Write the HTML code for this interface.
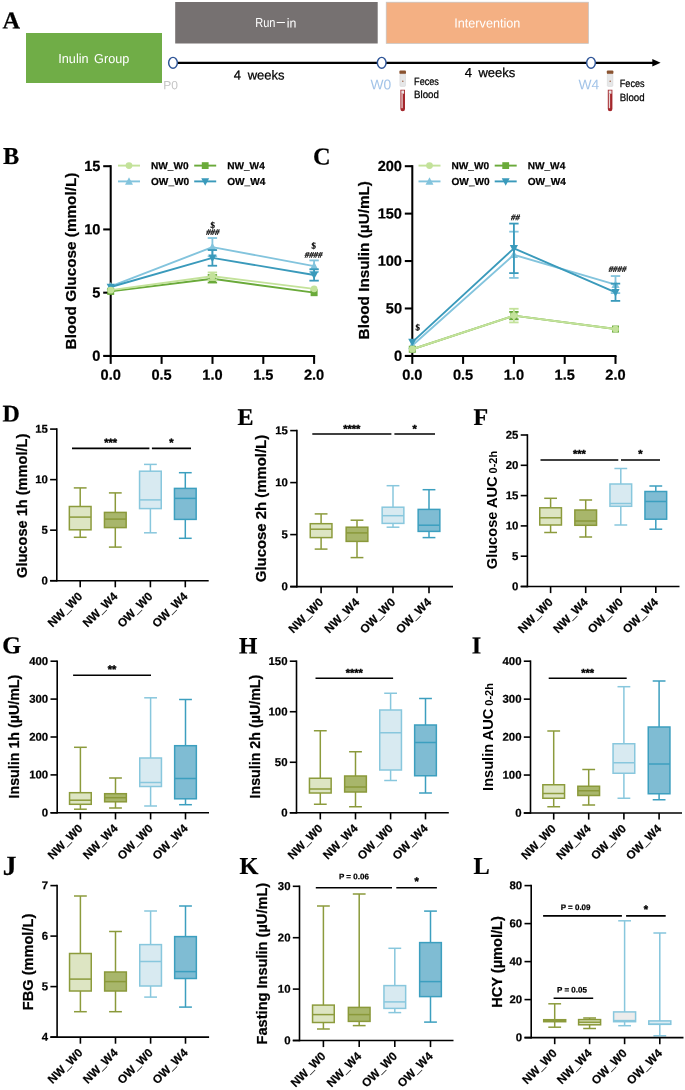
<!DOCTYPE html>
<html lang="en">
<head>
<meta charset="utf-8">
<title>Figure</title>
<style>
html,body{margin:0;padding:0;background:#fff;}
body{width:685px;height:1090px;overflow:hidden;}
svg{display:block;}
text{font-kerning:normal;}
</style>
</head>
<body>
<svg width="685" height="1090" viewBox="0 0 685 1090" role="img" aria-label="Study design and glucose, insulin and HCY results">
<rect x="0" y="0" width="685" height="1090" fill="#ffffff"/>
<text x="2.6" y="28.6" font-family='"Liberation Serif", serif' font-size="24.3" font-weight="bold" text-anchor="start" fill="#000" transform="rotate(0.03 2.6 28.6)" stroke="#000" stroke-width="0.22">A</text>
<rect x="26" y="33" width="136" height="50" fill="#70ad47" stroke="none" stroke-width="1"/>
<text x="93.8" y="63" font-family='"Liberation Sans", sans-serif' font-size="13" font-weight="normal" text-anchor="middle" fill="#fff" transform="rotate(0.03 93.8 63)" word-spacing="2" textLength="71" lengthAdjust="spacingAndGlyphs">Inulin Group</text>
<rect x="175.2" y="2" width="202.5" height="41.5" fill="#767171" stroke="none" stroke-width="1"/>
<text y="27.5" font-family='"Liberation Sans", sans-serif' font-size="13" fill="#fff" transform="rotate(0.03 276 27.5)"><tspan x="255.3" textLength="20.2" lengthAdjust="spacingAndGlyphs">Run</tspan><tspan x="275.2" dy="-1.5" textLength="11.2" lengthAdjust="spacingAndGlyphs">-</tspan><tspan x="286.8" dy="1.5" textLength="9.6" lengthAdjust="spacingAndGlyphs">in</tspan></text>
<rect x="386.2" y="2.2" width="202.3" height="41.2" fill="#f4b083" stroke="#c4c4c4" stroke-width="0.7"/>
<text x="487.3" y="27.5" font-family='"Liberation Sans", sans-serif' font-size="13" font-weight="normal" text-anchor="middle" fill="#fff" transform="rotate(0.03 487.3 27.5)" textLength="66" lengthAdjust="spacingAndGlyphs">Intervention</text>
<line x1="177" y1="62.8" x2="653" y2="62.8" stroke="#000" stroke-width="2.3" stroke-linecap="butt"/>
<polygon points="652.3,59.099999999999994 660.6,62.8 652.3,66.5" fill="#000"/>
<ellipse cx="173" cy="62.8" rx="4.35" ry="5.45" fill="#fff" stroke="#2f5597" stroke-width="1.45"/>
<ellipse cx="381.7" cy="62.8" rx="4.35" ry="5.45" fill="#fff" stroke="#2f5597" stroke-width="1.45"/>
<ellipse cx="591" cy="62.8" rx="4.35" ry="5.45" fill="#fff" stroke="#2f5597" stroke-width="1.45"/>
<text x="163.2" y="89.2" font-family='"Liberation Sans", sans-serif' font-size="12" font-weight="normal" text-anchor="start" fill="#c4c4c4" transform="rotate(0.03 163.2 89.2)">P0</text>
<text x="370.6" y="89.2" font-family='"Liberation Sans", sans-serif' font-size="13.8" font-weight="normal" text-anchor="start" fill="#a3c4e8" transform="rotate(0.03 370.6 89.2)">W0</text>
<text x="578.5" y="89.2" font-family='"Liberation Sans", sans-serif' font-size="13.8" font-weight="normal" text-anchor="start" fill="#a3c4e8" transform="rotate(0.03 578.5 89.2)">W4</text>
<text x="259.2" y="79.4" font-family='"Liberation Sans", sans-serif' font-size="13" font-weight="normal" text-anchor="middle" fill="#000" transform="rotate(0.03 259.2 79.4)" word-spacing="3" stroke="#000" stroke-width="0.25">4 weeks</text>
<text x="490" y="76.9" font-family='"Liberation Sans", sans-serif' font-size="13" font-weight="normal" text-anchor="middle" fill="#000" transform="rotate(0.03 490 76.9)" word-spacing="3" stroke="#000" stroke-width="0.25">4 weeks</text>
<text x="414.1" y="84.9" font-family='"Liberation Sans", sans-serif' font-size="10.5" font-weight="normal" text-anchor="start" fill="#000" transform="rotate(0.03 414.1 84.9)" textLength="24.8" lengthAdjust="spacingAndGlyphs" stroke="#000" stroke-width="0.25">Feces</text>
<text x="414.1" y="98.1" font-family='"Liberation Sans", sans-serif' font-size="10.5" font-weight="normal" text-anchor="start" fill="#000" transform="rotate(0.03 414.1 98.1)" textLength="24.8" lengthAdjust="spacingAndGlyphs" stroke="#000" stroke-width="0.25">Blood</text>
<text x="619.8" y="87.4" font-family='"Liberation Sans", sans-serif' font-size="10.5" font-weight="normal" text-anchor="start" fill="#000" transform="rotate(0.03 619.8 87.4)" textLength="24.8" lengthAdjust="spacingAndGlyphs" stroke="#000" stroke-width="0.25">Feces</text>
<text x="619.8" y="100.6" font-family='"Liberation Sans", sans-serif' font-size="10.5" font-weight="normal" text-anchor="start" fill="#000" transform="rotate(0.03 619.8 100.6)" textLength="24.8" lengthAdjust="spacingAndGlyphs" stroke="#000" stroke-width="0.25">Blood</text>
<rect x="399.4" y="70.6" width="6.6" height="3.4" rx="1" fill="#8a5330"/>
<rect x="399.9" y="74.0" width="5.6" height="12.4" rx="0.8" fill="#e6e7e8" stroke="#d2d3d5" stroke-width="0.5"/>
<circle cx="402.8" cy="81.19999999999999" r="0.8" fill="#a3674a"/>
<path d="M400.4 89.8 h4.6 v19.2 a2.3 2.3 0 0 1 -4.6 0 z" fill="#a4272c"/>
<rect x="401.3" y="90.5" width="2.8" height="3.2" fill="#ece4e4"/>
<rect x="401.4" y="93.7" width="1.3" height="14.5" fill="#e9d5d5"/>
<rect x="606.8000000000001" y="70.6" width="6.6" height="3.4" rx="1" fill="#8a5330"/>
<rect x="607.3000000000001" y="74.0" width="5.6" height="12.4" rx="0.8" fill="#e6e7e8" stroke="#d2d3d5" stroke-width="0.5"/>
<circle cx="610.2" cy="81.19999999999999" r="0.8" fill="#a3674a"/>
<path d="M607.8000000000001 89.8 h4.6 v19.2 a2.3 2.3 0 0 1 -4.6 0 z" fill="#a4272c"/>
<rect x="608.7" y="90.5" width="2.8" height="3.2" fill="#ece4e4"/>
<rect x="608.8000000000001" y="93.7" width="1.3" height="14.5" fill="#e9d5d5"/>
<text x="2.9" y="163.9" font-family='"Liberation Serif", serif' font-size="24.3" font-weight="bold" text-anchor="start" fill="#000" transform="rotate(0.03 2.9 163.9)" stroke="#000" stroke-width="0.22">B</text>
<text x="313.1" y="164.6" font-family='"Liberation Serif", serif' font-size="24.3" font-weight="bold" text-anchor="start" fill="#000" transform="rotate(0.03 313.1 164.6)" stroke="#000" stroke-width="0.22">C</text>
<line x1="110.7" y1="165.17499999999998" x2="110.7" y2="356.92499999999995" stroke="#000" stroke-width="2.05" stroke-linecap="butt"/>
<line x1="103.7" y1="355.9" x2="315.125" y2="355.9" stroke="#000" stroke-width="2.05" stroke-linecap="butt"/>
<line x1="103.2" y1="355.9" x2="110.7" y2="355.9" stroke="#000" stroke-width="2.05" stroke-linecap="butt"/>
<text x="100.4" y="360.7" font-family='"Liberation Sans", sans-serif' font-size="14.6" font-weight="bold" text-anchor="end" fill="#000" transform="rotate(0.03 100.4 360.7)" stroke="#000" stroke-width="0.22">0</text>
<line x1="103.2" y1="292.67" x2="110.7" y2="292.67" stroke="#000" stroke-width="2.05" stroke-linecap="butt"/>
<text x="100.4" y="297.47" font-family='"Liberation Sans", sans-serif' font-size="14.6" font-weight="bold" text-anchor="end" fill="#000" transform="rotate(0.03 100.4 297.47)" stroke="#000" stroke-width="0.22">5</text>
<line x1="103.2" y1="229.43" x2="110.7" y2="229.43" stroke="#000" stroke-width="2.05" stroke-linecap="butt"/>
<text x="100.4" y="234.23" font-family='"Liberation Sans", sans-serif' font-size="14.6" font-weight="bold" text-anchor="end" fill="#000" transform="rotate(0.03 100.4 234.23)" stroke="#000" stroke-width="0.22">10</text>
<line x1="103.2" y1="166.2" x2="110.7" y2="166.2" stroke="#000" stroke-width="2.05" stroke-linecap="butt"/>
<text x="100.4" y="171.0" font-family='"Liberation Sans", sans-serif' font-size="14.6" font-weight="bold" text-anchor="end" fill="#000" transform="rotate(0.03 100.4 171.0)" stroke="#000" stroke-width="0.22">15</text>
<line x1="110.7" y1="355.9" x2="110.7" y2="363.9" stroke="#000" stroke-width="2.05" stroke-linecap="butt"/>
<text x="110.7" y="379.8" font-family='"Liberation Sans", sans-serif' font-size="14.6" font-weight="bold" text-anchor="middle" fill="#000" transform="rotate(0.03 110.7 379.8)" stroke="#000" stroke-width="0.22">0.0</text>
<line x1="161.6" y1="355.9" x2="161.6" y2="363.9" stroke="#000" stroke-width="2.05" stroke-linecap="butt"/>
<text x="161.6" y="379.8" font-family='"Liberation Sans", sans-serif' font-size="14.6" font-weight="bold" text-anchor="middle" fill="#000" transform="rotate(0.03 161.6 379.8)" stroke="#000" stroke-width="0.22">0.5</text>
<line x1="212.5" y1="355.9" x2="212.5" y2="363.9" stroke="#000" stroke-width="2.05" stroke-linecap="butt"/>
<text x="212.5" y="379.8" font-family='"Liberation Sans", sans-serif' font-size="14.6" font-weight="bold" text-anchor="middle" fill="#000" transform="rotate(0.03 212.5 379.8)" stroke="#000" stroke-width="0.22">1.0</text>
<line x1="263.3" y1="355.9" x2="263.3" y2="363.9" stroke="#000" stroke-width="2.05" stroke-linecap="butt"/>
<text x="263.3" y="379.8" font-family='"Liberation Sans", sans-serif' font-size="14.6" font-weight="bold" text-anchor="middle" fill="#000" transform="rotate(0.03 263.3 379.8)" stroke="#000" stroke-width="0.22">1.5</text>
<line x1="314.1" y1="355.9" x2="314.1" y2="363.9" stroke="#000" stroke-width="2.05" stroke-linecap="butt"/>
<text x="314.1" y="379.8" font-family='"Liberation Sans", sans-serif' font-size="14.6" font-weight="bold" text-anchor="middle" fill="#000" transform="rotate(0.03 314.1 379.8)" stroke="#000" stroke-width="0.22">2.0</text>
<text x="75.5" y="261" font-family='"Liberation Sans", sans-serif' font-size="15.3" font-weight="bold" text-anchor="middle" fill="#000" transform="rotate(-90 75.5 261)" stroke="#000" stroke-width="0.22">Blood Glucose (mmol/L)</text>
<line x1="212.4" y1="238.03" x2="212.4" y2="256.24" stroke="#83c4dd" stroke-width="1.8" stroke-linecap="butt"/>
<line x1="207.70000000000002" y1="238.03" x2="217.1" y2="238.03" stroke="#83c4dd" stroke-width="1.8" stroke-linecap="butt"/>
<line x1="207.70000000000002" y1="256.24" x2="217.1" y2="256.24" stroke="#83c4dd" stroke-width="1.8" stroke-linecap="butt"/>
<line x1="314.1" y1="260.42" x2="314.1" y2="271.8" stroke="#83c4dd" stroke-width="1.8" stroke-linecap="butt"/>
<line x1="309.40000000000003" y1="260.42" x2="318.8" y2="260.42" stroke="#83c4dd" stroke-width="1.8" stroke-linecap="butt"/>
<line x1="309.40000000000003" y1="271.8" x2="318.8" y2="271.8" stroke="#83c4dd" stroke-width="1.8" stroke-linecap="butt"/>
<polyline points="110.70,286.34 212.40,247.14 314.10,266.11" fill="none" stroke="#83c4dd" stroke-width="1.9" stroke-linejoin="round"/>
<polygon points="110.7,281.965 114.795,289.66499999999996 106.605,289.66499999999996" fill="#83c4dd"/>
<polygon points="212.4,242.765 216.495,250.46499999999997 208.305,250.46499999999997" fill="#83c4dd"/>
<polygon points="314.1,261.735 318.19500000000005,269.435 310.005,269.435" fill="#83c4dd"/>
<line x1="212.4" y1="250.05" x2="212.4" y2="265.73" stroke="#3a9abb" stroke-width="1.8" stroke-linecap="butt"/>
<line x1="207.70000000000002" y1="250.05" x2="217.1" y2="250.05" stroke="#3a9abb" stroke-width="1.8" stroke-linecap="butt"/>
<line x1="207.70000000000002" y1="265.73" x2="217.1" y2="265.73" stroke="#3a9abb" stroke-width="1.8" stroke-linecap="butt"/>
<line x1="314.1" y1="269.27" x2="314.1" y2="280.65" stroke="#3a9abb" stroke-width="1.8" stroke-linecap="butt"/>
<line x1="309.40000000000003" y1="269.27" x2="318.8" y2="269.27" stroke="#3a9abb" stroke-width="1.8" stroke-linecap="butt"/>
<line x1="309.40000000000003" y1="280.65" x2="318.8" y2="280.65" stroke="#3a9abb" stroke-width="1.8" stroke-linecap="butt"/>
<polyline points="110.70,286.98 212.40,257.89 314.10,274.96" fill="none" stroke="#3a9abb" stroke-width="1.9" stroke-linejoin="round"/>
<polygon points="110.7,291.355 114.795,283.65500000000003 106.605,283.65500000000003" fill="#3a9abb"/>
<polygon points="212.4,262.265 216.495,254.565 208.305,254.565" fill="#3a9abb"/>
<polygon points="314.1,279.335 318.19500000000005,271.635 310.005,271.635" fill="#3a9abb"/>
<line x1="212.4" y1="274.96" x2="212.4" y2="282.55" stroke="#6aaa3a" stroke-width="1.8" stroke-linecap="butt"/>
<line x1="207.70000000000002" y1="274.96" x2="217.1" y2="274.96" stroke="#6aaa3a" stroke-width="1.8" stroke-linecap="butt"/>
<line x1="207.70000000000002" y1="282.55" x2="217.1" y2="282.55" stroke="#6aaa3a" stroke-width="1.8" stroke-linecap="butt"/>
<polyline points="110.70,291.40 212.40,278.76 314.10,292.67" fill="none" stroke="#6aaa3a" stroke-width="1.9" stroke-linejoin="round"/>
<rect x="107.2" y="287.9" width="7.0" height="7.0" fill="#6aaa3a"/>
<rect x="208.9" y="275.26" width="7.0" height="7.0" fill="#6aaa3a"/>
<rect x="310.6" y="289.17" width="7.0" height="7.0" fill="#6aaa3a"/>
<line x1="212.4" y1="272.43" x2="212.4" y2="280.02" stroke="#c3e29a" stroke-width="1.8" stroke-linecap="butt"/>
<line x1="207.70000000000002" y1="272.43" x2="217.1" y2="272.43" stroke="#c3e29a" stroke-width="1.8" stroke-linecap="butt"/>
<line x1="207.70000000000002" y1="280.02" x2="217.1" y2="280.02" stroke="#c3e29a" stroke-width="1.8" stroke-linecap="butt"/>
<polyline points="110.70,290.14 212.40,276.23 314.10,288.87" fill="none" stroke="#c3e29a" stroke-width="1.9" stroke-linejoin="round"/>
<circle cx="110.7" cy="290.14" r="3.4" fill="#c3e29a"/>
<circle cx="212.4" cy="276.23" r="3.4" fill="#c3e29a"/>
<circle cx="314.1" cy="288.87" r="3.4" fill="#c3e29a"/>
<line x1="118.0" y1="165.6" x2="140.0" y2="165.6" stroke="#c3e29a" stroke-width="1.9" stroke-linecap="butt"/>
<circle cx="129.0" cy="165.6" r="3.4" fill="#c3e29a"/>
<text x="151.0" y="169.2" font-family='"Liberation Sans", sans-serif' font-size="10.1" font-weight="bold" text-anchor="start" fill="#000" transform="rotate(0.03 151.0 169.2)" stroke="#000" stroke-width="0.22">NW_W0</text>
<line x1="194.2" y1="165.6" x2="216.2" y2="165.6" stroke="#6aaa3a" stroke-width="1.9" stroke-linecap="butt"/>
<rect x="201.79999999999998" y="162.2" width="6.8" height="6.8" fill="#6aaa3a"/>
<text x="227.2" y="169.2" font-family='"Liberation Sans", sans-serif' font-size="10.1" font-weight="bold" text-anchor="start" fill="#000" transform="rotate(0.03 227.2 169.2)" stroke="#000" stroke-width="0.22">NW_W4</text>
<line x1="118.0" y1="181.4" x2="140.0" y2="181.4" stroke="#83c4dd" stroke-width="1.9" stroke-linecap="butt"/>
<polygon points="129.0,177.15 132.978,184.63 125.022,184.63" fill="#83c4dd"/>
<text x="151.0" y="185.0" font-family='"Liberation Sans", sans-serif' font-size="10.1" font-weight="bold" text-anchor="start" fill="#000" transform="rotate(0.03 151.0 185.0)" stroke="#000" stroke-width="0.22">OW_W0</text>
<line x1="194.2" y1="181.4" x2="216.2" y2="181.4" stroke="#3a9abb" stroke-width="1.9" stroke-linecap="butt"/>
<polygon points="205.2,185.65 209.178,178.17000000000002 201.22199999999998,178.17000000000002" fill="#3a9abb"/>
<text x="227.2" y="185.0" font-family='"Liberation Sans", sans-serif' font-size="10.1" font-weight="bold" text-anchor="start" fill="#000" transform="rotate(0.03 227.2 185.0)" stroke="#000" stroke-width="0.22">OW_W4</text>
<text x="212.8" y="227.9" font-family='"Liberation Serif", serif' font-size="8.8" font-weight="bold" text-anchor="middle" fill="#000" transform="rotate(0.03 212.8 227.9)" stroke="#000" stroke-width="0.25">$</text>
<text x="212.8" y="235.1" font-family='"Liberation Serif", serif' font-size="8.8" font-weight="bold" text-anchor="middle" fill="#000" transform="rotate(0.03 212.8 235.1)" font-style="italic" stroke="#000" stroke-width="0.22">###</text>
<text x="313.8" y="248.4" font-family='"Liberation Serif", serif' font-size="8.8" font-weight="bold" text-anchor="middle" fill="#000" transform="rotate(0.03 313.8 248.4)" stroke="#000" stroke-width="0.25">$</text>
<text x="313.6" y="257.8" font-family='"Liberation Serif", serif' font-size="8.8" font-weight="bold" text-anchor="middle" fill="#000" transform="rotate(0.03 313.6 257.8)" font-style="italic" stroke="#000" stroke-width="0.22">####</text>
<line x1="412.3" y1="165.17499999999998" x2="412.3" y2="356.92499999999995" stroke="#000" stroke-width="2.05" stroke-linecap="butt"/>
<line x1="405.3" y1="355.9" x2="616.525" y2="355.9" stroke="#000" stroke-width="2.05" stroke-linecap="butt"/>
<line x1="404.8" y1="355.9" x2="412.3" y2="355.9" stroke="#000" stroke-width="2.05" stroke-linecap="butt"/>
<text x="402.0" y="360.7" font-family='"Liberation Sans", sans-serif' font-size="14.6" font-weight="bold" text-anchor="end" fill="#000" transform="rotate(0.03 402.0 360.7)" stroke="#000" stroke-width="0.22">0</text>
<line x1="404.8" y1="308.47" x2="412.3" y2="308.47" stroke="#000" stroke-width="2.05" stroke-linecap="butt"/>
<text x="402.0" y="313.27" font-family='"Liberation Sans", sans-serif' font-size="14.6" font-weight="bold" text-anchor="end" fill="#000" transform="rotate(0.03 402.0 313.27)" stroke="#000" stroke-width="0.22">50</text>
<line x1="404.8" y1="261.05" x2="412.3" y2="261.05" stroke="#000" stroke-width="2.05" stroke-linecap="butt"/>
<text x="402.0" y="265.85" font-family='"Liberation Sans", sans-serif' font-size="14.6" font-weight="bold" text-anchor="end" fill="#000" transform="rotate(0.03 402.0 265.85)" stroke="#000" stroke-width="0.22">100</text>
<line x1="404.8" y1="213.62" x2="412.3" y2="213.62" stroke="#000" stroke-width="2.05" stroke-linecap="butt"/>
<text x="402.0" y="218.42" font-family='"Liberation Sans", sans-serif' font-size="14.6" font-weight="bold" text-anchor="end" fill="#000" transform="rotate(0.03 402.0 218.42)" stroke="#000" stroke-width="0.22">150</text>
<line x1="404.8" y1="166.2" x2="412.3" y2="166.2" stroke="#000" stroke-width="2.05" stroke-linecap="butt"/>
<text x="402.0" y="171.0" font-family='"Liberation Sans", sans-serif' font-size="14.6" font-weight="bold" text-anchor="end" fill="#000" transform="rotate(0.03 402.0 171.0)" stroke="#000" stroke-width="0.22">200</text>
<line x1="412.3" y1="355.9" x2="412.3" y2="363.9" stroke="#000" stroke-width="2.05" stroke-linecap="butt"/>
<text x="412.3" y="379.8" font-family='"Liberation Sans", sans-serif' font-size="14.6" font-weight="bold" text-anchor="middle" fill="#000" transform="rotate(0.03 412.3 379.8)" stroke="#000" stroke-width="0.22">0.0</text>
<line x1="463.1" y1="355.9" x2="463.1" y2="363.9" stroke="#000" stroke-width="2.05" stroke-linecap="butt"/>
<text x="463.1" y="379.8" font-family='"Liberation Sans", sans-serif' font-size="14.6" font-weight="bold" text-anchor="middle" fill="#000" transform="rotate(0.03 463.1 379.8)" stroke="#000" stroke-width="0.22">0.5</text>
<line x1="513.9" y1="355.9" x2="513.9" y2="363.9" stroke="#000" stroke-width="2.05" stroke-linecap="butt"/>
<text x="513.9" y="379.8" font-family='"Liberation Sans", sans-serif' font-size="14.6" font-weight="bold" text-anchor="middle" fill="#000" transform="rotate(0.03 513.9 379.8)" stroke="#000" stroke-width="0.22">1.0</text>
<line x1="564.7" y1="355.9" x2="564.7" y2="363.9" stroke="#000" stroke-width="2.05" stroke-linecap="butt"/>
<text x="564.7" y="379.8" font-family='"Liberation Sans", sans-serif' font-size="14.6" font-weight="bold" text-anchor="middle" fill="#000" transform="rotate(0.03 564.7 379.8)" stroke="#000" stroke-width="0.22">1.5</text>
<line x1="615.5" y1="355.9" x2="615.5" y2="363.9" stroke="#000" stroke-width="2.05" stroke-linecap="butt"/>
<text x="615.5" y="379.8" font-family='"Liberation Sans", sans-serif' font-size="14.6" font-weight="bold" text-anchor="middle" fill="#000" transform="rotate(0.03 615.5 379.8)" stroke="#000" stroke-width="0.22">2.0</text>
<text x="368.7" y="260.2" font-family='"Liberation Sans", sans-serif' font-size="15.3" font-weight="bold" text-anchor="middle" fill="#000" transform="rotate(-90 368.7 260.2)" stroke="#000" stroke-width="0.22">Blood Insulin (µU/mL)</text>
<line x1="513.9" y1="231.65" x2="513.9" y2="277.93" stroke="#83c4dd" stroke-width="1.8" stroke-linecap="butt"/>
<line x1="509.2" y1="231.65" x2="518.6" y2="231.65" stroke="#83c4dd" stroke-width="1.8" stroke-linecap="butt"/>
<line x1="509.2" y1="277.93" x2="518.6" y2="277.93" stroke="#83c4dd" stroke-width="1.8" stroke-linecap="butt"/>
<line x1="615.5" y1="276.04" x2="615.5" y2="293.11" stroke="#83c4dd" stroke-width="1.8" stroke-linecap="butt"/>
<line x1="610.8" y1="276.04" x2="620.2" y2="276.04" stroke="#83c4dd" stroke-width="1.8" stroke-linecap="butt"/>
<line x1="610.8" y1="293.11" x2="620.2" y2="293.11" stroke="#83c4dd" stroke-width="1.8" stroke-linecap="butt"/>
<polyline points="412.30,345.47 513.90,254.79 615.50,284.57" fill="none" stroke="#83c4dd" stroke-width="1.9" stroke-linejoin="round"/>
<polygon points="412.3,341.095 416.39500000000004,348.795 408.205,348.795" fill="#83c4dd"/>
<polygon points="513.9,250.415 517.995,258.115 509.80499999999995,258.115" fill="#83c4dd"/>
<polygon points="615.5,280.195 619.595,287.895 611.405,287.895" fill="#83c4dd"/>
<line x1="513.9" y1="223.58" x2="513.9" y2="273.1" stroke="#3a9abb" stroke-width="1.8" stroke-linecap="butt"/>
<line x1="509.2" y1="223.58" x2="518.6" y2="223.58" stroke="#3a9abb" stroke-width="1.8" stroke-linecap="butt"/>
<line x1="509.2" y1="273.1" x2="518.6" y2="273.1" stroke="#3a9abb" stroke-width="1.8" stroke-linecap="butt"/>
<line x1="615.5" y1="283.62" x2="615.5" y2="300.89" stroke="#3a9abb" stroke-width="1.8" stroke-linecap="butt"/>
<line x1="610.8" y1="283.62" x2="620.2" y2="283.62" stroke="#3a9abb" stroke-width="1.8" stroke-linecap="butt"/>
<line x1="610.8" y1="300.89" x2="620.2" y2="300.89" stroke="#3a9abb" stroke-width="1.8" stroke-linecap="butt"/>
<polyline points="412.30,342.15 513.90,248.34 615.50,292.26" fill="none" stroke="#3a9abb" stroke-width="1.9" stroke-linejoin="round"/>
<polygon points="412.3,346.525 416.39500000000004,338.825 408.205,338.825" fill="#3a9abb"/>
<polygon points="513.9,252.715 517.995,245.01500000000001 509.80499999999995,245.01500000000001" fill="#3a9abb"/>
<polygon points="615.5,296.635 619.595,288.935 611.405,288.935" fill="#3a9abb"/>
<line x1="513.9" y1="311.89" x2="513.9" y2="319.29" stroke="#6aaa3a" stroke-width="1.8" stroke-linecap="butt"/>
<line x1="509.2" y1="311.89" x2="518.6" y2="311.89" stroke="#6aaa3a" stroke-width="1.8" stroke-linecap="butt"/>
<line x1="509.2" y1="319.29" x2="518.6" y2="319.29" stroke="#6aaa3a" stroke-width="1.8" stroke-linecap="butt"/>
<polyline points="412.30,349.26 513.90,315.59 615.50,329.06" fill="none" stroke="#6aaa3a" stroke-width="1.9" stroke-linejoin="round"/>
<rect x="408.8" y="345.76" width="7.0" height="7.0" fill="#6aaa3a"/>
<rect x="510.4" y="312.09" width="7.0" height="7.0" fill="#6aaa3a"/>
<rect x="612.0" y="325.56" width="7.0" height="7.0" fill="#6aaa3a"/>
<line x1="513.9" y1="308.76" x2="513.9" y2="322.42" stroke="#c3e29a" stroke-width="1.8" stroke-linecap="butt"/>
<line x1="509.2" y1="308.76" x2="518.6" y2="308.76" stroke="#c3e29a" stroke-width="1.8" stroke-linecap="butt"/>
<line x1="509.2" y1="322.42" x2="518.6" y2="322.42" stroke="#c3e29a" stroke-width="1.8" stroke-linecap="butt"/>
<polyline points="412.30,349.26 513.90,315.59 615.50,329.06" fill="none" stroke="#c3e29a" stroke-width="1.9" stroke-linejoin="round"/>
<circle cx="412.3" cy="349.26" r="3.4" fill="#c3e29a"/>
<circle cx="513.9" cy="315.59" r="3.4" fill="#c3e29a"/>
<circle cx="615.5" cy="329.06" r="3.4" fill="#c3e29a"/>
<line x1="418.5" y1="165.6" x2="440.5" y2="165.6" stroke="#c3e29a" stroke-width="1.9" stroke-linecap="butt"/>
<circle cx="429.5" cy="165.6" r="3.4" fill="#c3e29a"/>
<text x="451.5" y="169.2" font-family='"Liberation Sans", sans-serif' font-size="10.1" font-weight="bold" text-anchor="start" fill="#000" transform="rotate(0.03 451.5 169.2)" stroke="#000" stroke-width="0.22">NW_W0</text>
<line x1="494.7" y1="165.6" x2="516.7" y2="165.6" stroke="#6aaa3a" stroke-width="1.9" stroke-linecap="butt"/>
<rect x="502.3" y="162.2" width="6.8" height="6.8" fill="#6aaa3a"/>
<text x="527.7" y="169.2" font-family='"Liberation Sans", sans-serif' font-size="10.1" font-weight="bold" text-anchor="start" fill="#000" transform="rotate(0.03 527.7 169.2)" stroke="#000" stroke-width="0.22">NW_W4</text>
<line x1="418.5" y1="181.4" x2="440.5" y2="181.4" stroke="#83c4dd" stroke-width="1.9" stroke-linecap="butt"/>
<polygon points="429.5,177.15 433.478,184.63 425.522,184.63" fill="#83c4dd"/>
<text x="451.5" y="185.0" font-family='"Liberation Sans", sans-serif' font-size="10.1" font-weight="bold" text-anchor="start" fill="#000" transform="rotate(0.03 451.5 185.0)" stroke="#000" stroke-width="0.22">OW_W0</text>
<line x1="494.7" y1="181.4" x2="516.7" y2="181.4" stroke="#3a9abb" stroke-width="1.9" stroke-linecap="butt"/>
<polygon points="505.7,185.65 509.678,178.17000000000002 501.722,178.17000000000002" fill="#3a9abb"/>
<text x="527.7" y="185.0" font-family='"Liberation Sans", sans-serif' font-size="10.1" font-weight="bold" text-anchor="start" fill="#000" transform="rotate(0.03 527.7 185.0)" stroke="#000" stroke-width="0.22">OW_W4</text>
<text x="417.6" y="330.2" font-family='"Liberation Serif", serif' font-size="8.8" font-weight="bold" text-anchor="middle" fill="#000" transform="rotate(0.03 417.6 330.2)" stroke="#000" stroke-width="0.25">$</text>
<text x="515.5" y="220.2" font-family='"Liberation Serif", serif' font-size="8.8" font-weight="bold" text-anchor="middle" fill="#000" transform="rotate(0.03 515.5 220.2)" font-style="italic" stroke="#000" stroke-width="0.22">##</text>
<text x="617.5" y="272" font-family='"Liberation Serif", serif' font-size="8.8" font-weight="bold" text-anchor="middle" fill="#000" transform="rotate(0.03 617.5 272)" font-style="italic" stroke="#000" stroke-width="0.22">####</text>
<text x="2.6" y="421.6" font-family='"Liberation Serif", serif' font-size="24" font-weight="bold" text-anchor="start" fill="#000" transform="rotate(0.03 2.6 421.6)" stroke="#000" stroke-width="0.22">D</text>
<text x="237.6" y="425" font-family='"Liberation Serif", serif' font-size="24" font-weight="bold" text-anchor="start" fill="#000" transform="rotate(0.03 237.6 425)" stroke="#000" stroke-width="0.22">E</text>
<text x="473.4" y="425" font-family='"Liberation Serif", serif' font-size="24" font-weight="bold" text-anchor="start" fill="#000" transform="rotate(0.03 473.4 425)" stroke="#000" stroke-width="0.22">F</text>
<line x1="80.2" y1="487.9" x2="80.2" y2="537.3" stroke="#8c9b3c" stroke-width="1.5" stroke-linecap="butt"/>
<line x1="73.8" y1="487.9" x2="86.60000000000001" y2="487.9" stroke="#8c9b3c" stroke-width="1.5" stroke-linecap="butt"/>
<line x1="73.8" y1="537.3" x2="86.60000000000001" y2="537.3" stroke="#8c9b3c" stroke-width="1.5" stroke-linecap="butt"/>
<rect x="69.35" y="506.5" width="21.7" height="23.3" fill="#dde5c3" stroke="#8c9b3c" stroke-width="1.5"/>
<line x1="69.35" y1="517.1" x2="91.05" y2="517.1" stroke="#8c9b3c" stroke-width="1.5" stroke-linecap="butt"/>
<line x1="115.3" y1="492.9" x2="115.3" y2="547.1" stroke="#8a993a" stroke-width="1.5" stroke-linecap="butt"/>
<line x1="108.89999999999999" y1="492.9" x2="121.7" y2="492.9" stroke="#8a993a" stroke-width="1.5" stroke-linecap="butt"/>
<line x1="108.89999999999999" y1="547.1" x2="121.7" y2="547.1" stroke="#8a993a" stroke-width="1.5" stroke-linecap="butt"/>
<rect x="104.45" y="512.4" width="21.7" height="15.2" fill="#a8b66b" stroke="#8a993a" stroke-width="1.5"/>
<line x1="104.45" y1="519.1" x2="126.15" y2="519.1" stroke="#8a993a" stroke-width="1.5" stroke-linecap="butt"/>
<line x1="150.4" y1="464.4" x2="150.4" y2="532.8" stroke="#88c7dd" stroke-width="1.5" stroke-linecap="butt"/>
<line x1="144.0" y1="464.4" x2="156.8" y2="464.4" stroke="#88c7dd" stroke-width="1.5" stroke-linecap="butt"/>
<line x1="144.0" y1="532.8" x2="156.8" y2="532.8" stroke="#88c7dd" stroke-width="1.5" stroke-linecap="butt"/>
<rect x="139.55" y="471.2" width="21.7" height="37.4" fill="#d8eaf1" stroke="#88c7dd" stroke-width="1.5"/>
<line x1="139.55" y1="499.9" x2="161.25" y2="499.9" stroke="#88c7dd" stroke-width="1.5" stroke-linecap="butt"/>
<line x1="185.3" y1="472.7" x2="185.3" y2="538.3" stroke="#3c9fbf" stroke-width="1.5" stroke-linecap="butt"/>
<line x1="178.9" y1="472.7" x2="191.70000000000002" y2="472.7" stroke="#3c9fbf" stroke-width="1.5" stroke-linecap="butt"/>
<line x1="178.9" y1="538.3" x2="191.70000000000002" y2="538.3" stroke="#3c9fbf" stroke-width="1.5" stroke-linecap="butt"/>
<rect x="174.45" y="488.4" width="21.7" height="31.0" fill="#7fbcd3" stroke="#3c9fbf" stroke-width="1.5"/>
<line x1="174.45" y1="498.4" x2="196.15" y2="498.4" stroke="#3c9fbf" stroke-width="1.5" stroke-linecap="butt"/>
<line x1="56.8" y1="428.3" x2="56.8" y2="581.5" stroke="#000" stroke-width="1.6" stroke-linecap="butt"/>
<line x1="50.099999999999994" y1="580.7" x2="208.7" y2="580.7" stroke="#000" stroke-width="1.6" stroke-linecap="butt"/>
<line x1="50.099999999999994" y1="429.1" x2="56.8" y2="429.1" stroke="#000" stroke-width="1.6" stroke-linecap="butt"/>
<text x="47.8" y="432.8" font-family='"Liberation Sans", sans-serif' font-size="11.4" font-weight="bold" text-anchor="end" fill="#000" transform="rotate(0.03 47.8 432.8)" stroke="#000" stroke-width="0.22">15</text>
<line x1="50.099999999999994" y1="479.63" x2="56.8" y2="479.63" stroke="#000" stroke-width="1.6" stroke-linecap="butt"/>
<text x="47.8" y="483.33" font-family='"Liberation Sans", sans-serif' font-size="11.4" font-weight="bold" text-anchor="end" fill="#000" transform="rotate(0.03 47.8 483.33)" stroke="#000" stroke-width="0.22">10</text>
<line x1="50.099999999999994" y1="530.17" x2="56.8" y2="530.17" stroke="#000" stroke-width="1.6" stroke-linecap="butt"/>
<text x="47.8" y="533.87" font-family='"Liberation Sans", sans-serif' font-size="11.4" font-weight="bold" text-anchor="end" fill="#000" transform="rotate(0.03 47.8 533.87)" stroke="#000" stroke-width="0.22">5</text>
<line x1="50.099999999999994" y1="580.7" x2="56.8" y2="580.7" stroke="#000" stroke-width="1.6" stroke-linecap="butt"/>
<text x="47.8" y="584.4" font-family='"Liberation Sans", sans-serif' font-size="11.4" font-weight="bold" text-anchor="end" fill="#000" transform="rotate(0.03 47.8 584.4)" stroke="#000" stroke-width="0.22">0</text>
<line x1="80.2" y1="580.7" x2="80.2" y2="587.3000000000001" stroke="#000" stroke-width="1.6" stroke-linecap="butt"/>
<text x="83.2" y="597.1" font-family='"Liberation Sans", sans-serif' font-size="11.7" font-weight="bold" text-anchor="end" fill="#000" transform="rotate(-45 83.2 597.1)" stroke="#000" stroke-width="0.22">NW_W0</text>
<line x1="115.3" y1="580.7" x2="115.3" y2="587.3000000000001" stroke="#000" stroke-width="1.6" stroke-linecap="butt"/>
<text x="118.3" y="597.1" font-family='"Liberation Sans", sans-serif' font-size="11.7" font-weight="bold" text-anchor="end" fill="#000" transform="rotate(-45 118.3 597.1)" stroke="#000" stroke-width="0.22">NW_W4</text>
<line x1="150.4" y1="580.7" x2="150.4" y2="587.3000000000001" stroke="#000" stroke-width="1.6" stroke-linecap="butt"/>
<text x="153.4" y="597.1" font-family='"Liberation Sans", sans-serif' font-size="11.7" font-weight="bold" text-anchor="end" fill="#000" transform="rotate(-45 153.4 597.1)" stroke="#000" stroke-width="0.22">OW_W0</text>
<line x1="185.3" y1="580.7" x2="185.3" y2="587.3000000000001" stroke="#000" stroke-width="1.6" stroke-linecap="butt"/>
<text x="188.3" y="597.1" font-family='"Liberation Sans", sans-serif' font-size="11.7" font-weight="bold" text-anchor="end" fill="#000" transform="rotate(-45 188.3 597.1)" stroke="#000" stroke-width="0.22">OW_W4</text>
<text x="26.9" y="505.8" font-family='"Liberation Sans", sans-serif' font-size="14.6" font-weight="bold" text-anchor="middle" fill="#000" transform="rotate(-90 26.9 505.8)" stroke="#000" stroke-width="0.22">Glucose 1h (mmol/L)</text>
<line x1="72" y1="448.3" x2="149.4" y2="448.3" stroke="#000" stroke-width="1.65" stroke-linecap="butt"/>
<text x="110.7" y="446.2" font-family='"Liberation Sans", sans-serif' font-size="11" font-weight="bold" text-anchor="middle" fill="#000" transform="rotate(0.03 110.7 446.2)" stroke="#000" stroke-width="0.45">***</text>
<line x1="151.9" y1="448.3" x2="191" y2="448.3" stroke="#000" stroke-width="1.65" stroke-linecap="butt"/>
<text x="171.45" y="446.2" font-family='"Liberation Sans", sans-serif' font-size="11" font-weight="bold" text-anchor="middle" fill="#000" transform="rotate(0.03 171.45 446.2)" stroke="#000" stroke-width="0.45">*</text>
<line x1="321.1" y1="513.9" x2="321.1" y2="549.1" stroke="#8c9b3c" stroke-width="1.5" stroke-linecap="butt"/>
<line x1="314.70000000000005" y1="513.9" x2="327.5" y2="513.9" stroke="#8c9b3c" stroke-width="1.5" stroke-linecap="butt"/>
<line x1="314.70000000000005" y1="549.1" x2="327.5" y2="549.1" stroke="#8c9b3c" stroke-width="1.5" stroke-linecap="butt"/>
<rect x="310.25" y="523.7" width="21.7" height="13.9" fill="#dde5c3" stroke="#8c9b3c" stroke-width="1.5"/>
<line x1="310.25" y1="529.2" x2="331.95" y2="529.2" stroke="#8c9b3c" stroke-width="1.5" stroke-linecap="butt"/>
<line x1="357" y1="520.2" x2="357" y2="557.6" stroke="#8a993a" stroke-width="1.5" stroke-linecap="butt"/>
<line x1="350.6" y1="520.2" x2="363.4" y2="520.2" stroke="#8a993a" stroke-width="1.5" stroke-linecap="butt"/>
<line x1="350.6" y1="557.6" x2="363.4" y2="557.6" stroke="#8a993a" stroke-width="1.5" stroke-linecap="butt"/>
<rect x="346.15" y="527.2" width="21.7" height="14.2" fill="#a8b66b" stroke="#8a993a" stroke-width="1.5"/>
<line x1="346.15" y1="532.9" x2="367.85" y2="532.9" stroke="#8a993a" stroke-width="1.5" stroke-linecap="butt"/>
<line x1="393" y1="485.7" x2="393" y2="527.2" stroke="#88c7dd" stroke-width="1.5" stroke-linecap="butt"/>
<line x1="386.6" y1="485.7" x2="399.4" y2="485.7" stroke="#88c7dd" stroke-width="1.5" stroke-linecap="butt"/>
<line x1="386.6" y1="527.2" x2="399.4" y2="527.2" stroke="#88c7dd" stroke-width="1.5" stroke-linecap="butt"/>
<rect x="382.15" y="507.2" width="21.7" height="16.2" fill="#d8eaf1" stroke="#88c7dd" stroke-width="1.5"/>
<line x1="382.15" y1="515.7" x2="403.85" y2="515.7" stroke="#88c7dd" stroke-width="1.5" stroke-linecap="butt"/>
<line x1="429" y1="489.7" x2="429" y2="537.6" stroke="#3c9fbf" stroke-width="1.5" stroke-linecap="butt"/>
<line x1="422.6" y1="489.7" x2="435.4" y2="489.7" stroke="#3c9fbf" stroke-width="1.5" stroke-linecap="butt"/>
<line x1="422.6" y1="537.6" x2="435.4" y2="537.6" stroke="#3c9fbf" stroke-width="1.5" stroke-linecap="butt"/>
<rect x="418.15" y="509.4" width="21.7" height="22.0" fill="#7fbcd3" stroke="#3c9fbf" stroke-width="1.5"/>
<line x1="418.15" y1="525.2" x2="439.85" y2="525.2" stroke="#3c9fbf" stroke-width="1.5" stroke-linecap="butt"/>
<line x1="296.9" y1="429.8" x2="296.9" y2="587.4" stroke="#000" stroke-width="1.6" stroke-linecap="butt"/>
<line x1="290.2" y1="586.6" x2="453" y2="586.6" stroke="#000" stroke-width="1.6" stroke-linecap="butt"/>
<line x1="290.2" y1="430.6" x2="296.9" y2="430.6" stroke="#000" stroke-width="1.6" stroke-linecap="butt"/>
<text x="287.9" y="434.3" font-family='"Liberation Sans", sans-serif' font-size="11.4" font-weight="bold" text-anchor="end" fill="#000" transform="rotate(0.03 287.9 434.3)" stroke="#000" stroke-width="0.22">15</text>
<line x1="290.2" y1="482.6" x2="296.9" y2="482.6" stroke="#000" stroke-width="1.6" stroke-linecap="butt"/>
<text x="287.9" y="486.3" font-family='"Liberation Sans", sans-serif' font-size="11.4" font-weight="bold" text-anchor="end" fill="#000" transform="rotate(0.03 287.9 486.3)" stroke="#000" stroke-width="0.22">10</text>
<line x1="290.2" y1="534.6" x2="296.9" y2="534.6" stroke="#000" stroke-width="1.6" stroke-linecap="butt"/>
<text x="287.9" y="538.3" font-family='"Liberation Sans", sans-serif' font-size="11.4" font-weight="bold" text-anchor="end" fill="#000" transform="rotate(0.03 287.9 538.3)" stroke="#000" stroke-width="0.22">5</text>
<line x1="290.2" y1="586.6" x2="296.9" y2="586.6" stroke="#000" stroke-width="1.6" stroke-linecap="butt"/>
<text x="287.9" y="590.3" font-family='"Liberation Sans", sans-serif' font-size="11.4" font-weight="bold" text-anchor="end" fill="#000" transform="rotate(0.03 287.9 590.3)" stroke="#000" stroke-width="0.22">0</text>
<line x1="321.1" y1="586.6" x2="321.1" y2="593.2" stroke="#000" stroke-width="1.6" stroke-linecap="butt"/>
<text x="324.1" y="603.0" font-family='"Liberation Sans", sans-serif' font-size="11.7" font-weight="bold" text-anchor="end" fill="#000" transform="rotate(-45 324.1 603.0)" stroke="#000" stroke-width="0.22">NW_W0</text>
<line x1="357" y1="586.6" x2="357" y2="593.2" stroke="#000" stroke-width="1.6" stroke-linecap="butt"/>
<text x="360.0" y="603.0" font-family='"Liberation Sans", sans-serif' font-size="11.7" font-weight="bold" text-anchor="end" fill="#000" transform="rotate(-45 360.0 603.0)" stroke="#000" stroke-width="0.22">NW_W4</text>
<line x1="393" y1="586.6" x2="393" y2="593.2" stroke="#000" stroke-width="1.6" stroke-linecap="butt"/>
<text x="396.0" y="603.0" font-family='"Liberation Sans", sans-serif' font-size="11.7" font-weight="bold" text-anchor="end" fill="#000" transform="rotate(-45 396.0 603.0)" stroke="#000" stroke-width="0.22">OW_W0</text>
<line x1="429" y1="586.6" x2="429" y2="593.2" stroke="#000" stroke-width="1.6" stroke-linecap="butt"/>
<text x="432.0" y="603.0" font-family='"Liberation Sans", sans-serif' font-size="11.7" font-weight="bold" text-anchor="end" fill="#000" transform="rotate(-45 432.0 603.0)" stroke="#000" stroke-width="0.22">OW_W4</text>
<text x="266.0" y="508.5" font-family='"Liberation Sans", sans-serif' font-size="14.9" font-weight="bold" text-anchor="middle" fill="#000" transform="rotate(-90 266.0 508.5)" stroke="#000" stroke-width="0.22">Glucose 2h (mmol/L)</text>
<line x1="312.3" y1="434" x2="391.4" y2="434" stroke="#000" stroke-width="1.65" stroke-linecap="butt"/>
<text x="351.85" y="432.5" font-family='"Liberation Sans", sans-serif' font-size="11" font-weight="bold" text-anchor="middle" fill="#000" transform="rotate(0.03 351.85 432.5)" stroke="#000" stroke-width="0.45">****</text>
<line x1="394.4" y1="434" x2="435" y2="434" stroke="#000" stroke-width="1.65" stroke-linecap="butt"/>
<text x="414.7" y="432.5" font-family='"Liberation Sans", sans-serif' font-size="11" font-weight="bold" text-anchor="middle" fill="#000" transform="rotate(0.03 414.7 432.5)" stroke="#000" stroke-width="0.45">*</text>
<line x1="550.6" y1="498.3" x2="550.6" y2="532.5" stroke="#8c9b3c" stroke-width="1.5" stroke-linecap="butt"/>
<line x1="544.2" y1="498.3" x2="557.0" y2="498.3" stroke="#8c9b3c" stroke-width="1.5" stroke-linecap="butt"/>
<line x1="544.2" y1="532.5" x2="557.0" y2="532.5" stroke="#8c9b3c" stroke-width="1.5" stroke-linecap="butt"/>
<rect x="539.75" y="507.8" width="21.7" height="17.2" fill="#dde5c3" stroke="#8c9b3c" stroke-width="1.5"/>
<line x1="539.75" y1="517.8" x2="561.45" y2="517.8" stroke="#8c9b3c" stroke-width="1.5" stroke-linecap="butt"/>
<line x1="585.7" y1="500" x2="585.7" y2="537" stroke="#8a993a" stroke-width="1.5" stroke-linecap="butt"/>
<line x1="579.3000000000001" y1="500" x2="592.1" y2="500" stroke="#8a993a" stroke-width="1.5" stroke-linecap="butt"/>
<line x1="579.3000000000001" y1="537" x2="592.1" y2="537" stroke="#8a993a" stroke-width="1.5" stroke-linecap="butt"/>
<rect x="574.85" y="510" width="21.7" height="15.3" fill="#a8b66b" stroke="#8a993a" stroke-width="1.5"/>
<line x1="574.85" y1="521" x2="596.55" y2="521" stroke="#8a993a" stroke-width="1.5" stroke-linecap="butt"/>
<line x1="620.8" y1="468.5" x2="620.8" y2="525" stroke="#88c7dd" stroke-width="1.5" stroke-linecap="butt"/>
<line x1="614.4" y1="468.5" x2="627.1999999999999" y2="468.5" stroke="#88c7dd" stroke-width="1.5" stroke-linecap="butt"/>
<line x1="614.4" y1="525" x2="627.1999999999999" y2="525" stroke="#88c7dd" stroke-width="1.5" stroke-linecap="butt"/>
<rect x="609.95" y="484" width="21.7" height="22.3" fill="#d8eaf1" stroke="#88c7dd" stroke-width="1.5"/>
<line x1="609.95" y1="503.5" x2="631.65" y2="503.5" stroke="#88c7dd" stroke-width="1.5" stroke-linecap="butt"/>
<line x1="655.8" y1="486" x2="655.8" y2="529.2" stroke="#3c9fbf" stroke-width="1.5" stroke-linecap="butt"/>
<line x1="649.4" y1="486" x2="662.1999999999999" y2="486" stroke="#3c9fbf" stroke-width="1.5" stroke-linecap="butt"/>
<line x1="649.4" y1="529.2" x2="662.1999999999999" y2="529.2" stroke="#3c9fbf" stroke-width="1.5" stroke-linecap="butt"/>
<rect x="644.95" y="491.5" width="21.7" height="27.7" fill="#7fbcd3" stroke="#3c9fbf" stroke-width="1.5"/>
<line x1="644.95" y1="501.5" x2="666.65" y2="501.5" stroke="#3c9fbf" stroke-width="1.5" stroke-linecap="butt"/>
<line x1="527.4" y1="434.2" x2="527.4" y2="587.3" stroke="#000" stroke-width="1.6" stroke-linecap="butt"/>
<line x1="520.6999999999999" y1="586.5" x2="679.5" y2="586.5" stroke="#000" stroke-width="1.6" stroke-linecap="butt"/>
<line x1="520.6999999999999" y1="435.0" x2="527.4" y2="435.0" stroke="#000" stroke-width="1.6" stroke-linecap="butt"/>
<text x="518.4" y="438.7" font-family='"Liberation Sans", sans-serif' font-size="11.4" font-weight="bold" text-anchor="end" fill="#000" transform="rotate(0.03 518.4 438.7)" stroke="#000" stroke-width="0.22">25</text>
<line x1="520.6999999999999" y1="465.3" x2="527.4" y2="465.3" stroke="#000" stroke-width="1.6" stroke-linecap="butt"/>
<text x="518.4" y="469.0" font-family='"Liberation Sans", sans-serif' font-size="11.4" font-weight="bold" text-anchor="end" fill="#000" transform="rotate(0.03 518.4 469.0)" stroke="#000" stroke-width="0.22">20</text>
<line x1="520.6999999999999" y1="495.6" x2="527.4" y2="495.6" stroke="#000" stroke-width="1.6" stroke-linecap="butt"/>
<text x="518.4" y="499.3" font-family='"Liberation Sans", sans-serif' font-size="11.4" font-weight="bold" text-anchor="end" fill="#000" transform="rotate(0.03 518.4 499.3)" stroke="#000" stroke-width="0.22">15</text>
<line x1="520.6999999999999" y1="525.9" x2="527.4" y2="525.9" stroke="#000" stroke-width="1.6" stroke-linecap="butt"/>
<text x="518.4" y="529.6" font-family='"Liberation Sans", sans-serif' font-size="11.4" font-weight="bold" text-anchor="end" fill="#000" transform="rotate(0.03 518.4 529.6)" stroke="#000" stroke-width="0.22">10</text>
<line x1="520.6999999999999" y1="556.2" x2="527.4" y2="556.2" stroke="#000" stroke-width="1.6" stroke-linecap="butt"/>
<text x="518.4" y="559.9" font-family='"Liberation Sans", sans-serif' font-size="11.4" font-weight="bold" text-anchor="end" fill="#000" transform="rotate(0.03 518.4 559.9)" stroke="#000" stroke-width="0.22">5</text>
<line x1="520.6999999999999" y1="586.5" x2="527.4" y2="586.5" stroke="#000" stroke-width="1.6" stroke-linecap="butt"/>
<text x="518.4" y="590.2" font-family='"Liberation Sans", sans-serif' font-size="11.4" font-weight="bold" text-anchor="end" fill="#000" transform="rotate(0.03 518.4 590.2)" stroke="#000" stroke-width="0.22">0</text>
<line x1="550.6" y1="586.5" x2="550.6" y2="593.1" stroke="#000" stroke-width="1.6" stroke-linecap="butt"/>
<text x="553.6" y="602.9" font-family='"Liberation Sans", sans-serif' font-size="11.7" font-weight="bold" text-anchor="end" fill="#000" transform="rotate(-45 553.6 602.9)" stroke="#000" stroke-width="0.22">NW_W0</text>
<line x1="585.7" y1="586.5" x2="585.7" y2="593.1" stroke="#000" stroke-width="1.6" stroke-linecap="butt"/>
<text x="588.7" y="602.9" font-family='"Liberation Sans", sans-serif' font-size="11.7" font-weight="bold" text-anchor="end" fill="#000" transform="rotate(-45 588.7 602.9)" stroke="#000" stroke-width="0.22">NW_W4</text>
<line x1="620.8" y1="586.5" x2="620.8" y2="593.1" stroke="#000" stroke-width="1.6" stroke-linecap="butt"/>
<text x="623.8" y="602.9" font-family='"Liberation Sans", sans-serif' font-size="11.7" font-weight="bold" text-anchor="end" fill="#000" transform="rotate(-45 623.8 602.9)" stroke="#000" stroke-width="0.22">OW_W0</text>
<line x1="655.8" y1="586.5" x2="655.8" y2="593.1" stroke="#000" stroke-width="1.6" stroke-linecap="butt"/>
<text x="658.8" y="602.9" font-family='"Liberation Sans", sans-serif' font-size="11.7" font-weight="bold" text-anchor="end" fill="#000" transform="rotate(-45 658.8 602.9)" stroke="#000" stroke-width="0.22">OW_W4</text>
<text x="496.5" y="510" font-family='"Liberation Sans", sans-serif' font-weight="bold" text-anchor="middle" transform="rotate(-90 496.5 510)"><tspan font-size="14.6">Glucose AUC</tspan><tspan font-size="11"> 0-2h</tspan></text>
<line x1="540.5" y1="460" x2="618.3" y2="460" stroke="#000" stroke-width="1.65" stroke-linecap="butt"/>
<text x="579.4" y="457.6" font-family='"Liberation Sans", sans-serif' font-size="11" font-weight="bold" text-anchor="middle" fill="#000" transform="rotate(0.03 579.4 457.6)" stroke="#000" stroke-width="0.45">***</text>
<line x1="621" y1="460" x2="660" y2="460" stroke="#000" stroke-width="1.65" stroke-linecap="butt"/>
<text x="640.5" y="457.6" font-family='"Liberation Sans", sans-serif' font-size="11" font-weight="bold" text-anchor="middle" fill="#000" transform="rotate(0.03 640.5 457.6)" stroke="#000" stroke-width="0.45">*</text>
<text x="2.2" y="653.3" font-family='"Liberation Serif", serif' font-size="24.3" font-weight="bold" text-anchor="start" fill="#000" transform="rotate(0.03 2.2 653.3)" stroke="#000" stroke-width="0.22">G</text>
<text x="239.1" y="653.4" font-family='"Liberation Serif", serif' font-size="23.6" font-weight="bold" text-anchor="start" fill="#000" transform="rotate(0.03 239.1 653.4)" stroke="#000" stroke-width="0.22">H</text>
<text x="471.8" y="653.4" font-family='"Liberation Serif", serif' font-size="24.3" font-weight="bold" text-anchor="start" fill="#000" transform="rotate(0.03 471.8 653.4)" stroke="#000" stroke-width="0.22">I</text>
<line x1="80.4" y1="747.3" x2="80.4" y2="809.2" stroke="#8c9b3c" stroke-width="1.5" stroke-linecap="butt"/>
<line x1="74.0" y1="747.3" x2="86.80000000000001" y2="747.3" stroke="#8c9b3c" stroke-width="1.5" stroke-linecap="butt"/>
<line x1="74.0" y1="809.2" x2="86.80000000000001" y2="809.2" stroke="#8c9b3c" stroke-width="1.5" stroke-linecap="butt"/>
<rect x="69.55" y="792.7" width="21.7" height="11.6" fill="#dde5c3" stroke="#8c9b3c" stroke-width="1.5"/>
<line x1="69.55" y1="800.2" x2="91.25" y2="800.2" stroke="#8c9b3c" stroke-width="1.5" stroke-linecap="butt"/>
<line x1="115.5" y1="778" x2="115.5" y2="808" stroke="#8a993a" stroke-width="1.5" stroke-linecap="butt"/>
<line x1="109.1" y1="778" x2="121.9" y2="778" stroke="#8a993a" stroke-width="1.5" stroke-linecap="butt"/>
<line x1="109.1" y1="808" x2="121.9" y2="808" stroke="#8a993a" stroke-width="1.5" stroke-linecap="butt"/>
<rect x="104.65" y="793.7" width="21.7" height="8.1" fill="#a8b66b" stroke="#8a993a" stroke-width="1.5"/>
<line x1="104.65" y1="797.7" x2="126.35" y2="797.7" stroke="#8a993a" stroke-width="1.5" stroke-linecap="butt"/>
<line x1="150.6" y1="697.8" x2="150.6" y2="806" stroke="#88c7dd" stroke-width="1.5" stroke-linecap="butt"/>
<line x1="144.2" y1="697.8" x2="157.0" y2="697.8" stroke="#88c7dd" stroke-width="1.5" stroke-linecap="butt"/>
<line x1="144.2" y1="806" x2="157.0" y2="806" stroke="#88c7dd" stroke-width="1.5" stroke-linecap="butt"/>
<rect x="139.75" y="758" width="21.7" height="28.5" fill="#d8eaf1" stroke="#88c7dd" stroke-width="1.5"/>
<line x1="139.75" y1="782.5" x2="161.45" y2="782.5" stroke="#88c7dd" stroke-width="1.5" stroke-linecap="butt"/>
<line x1="185.5" y1="699.5" x2="185.5" y2="804.7" stroke="#3c9fbf" stroke-width="1.5" stroke-linecap="butt"/>
<line x1="179.1" y1="699.5" x2="191.9" y2="699.5" stroke="#3c9fbf" stroke-width="1.5" stroke-linecap="butt"/>
<line x1="179.1" y1="804.7" x2="191.9" y2="804.7" stroke="#3c9fbf" stroke-width="1.5" stroke-linecap="butt"/>
<rect x="174.65" y="745.7" width="21.7" height="53.1" fill="#7fbcd3" stroke="#3c9fbf" stroke-width="1.5"/>
<line x1="174.65" y1="778.5" x2="196.35" y2="778.5" stroke="#3c9fbf" stroke-width="1.5" stroke-linecap="butt"/>
<line x1="57.2" y1="660.4000000000001" x2="57.2" y2="813.5999999999999" stroke="#000" stroke-width="1.6" stroke-linecap="butt"/>
<line x1="50.5" y1="812.8" x2="209" y2="812.8" stroke="#000" stroke-width="1.6" stroke-linecap="butt"/>
<line x1="50.5" y1="661.2" x2="57.2" y2="661.2" stroke="#000" stroke-width="1.6" stroke-linecap="butt"/>
<text x="48.2" y="664.9" font-family='"Liberation Sans", sans-serif' font-size="11.4" font-weight="bold" text-anchor="end" fill="#000" transform="rotate(0.03 48.2 664.9)" stroke="#000" stroke-width="0.22">400</text>
<line x1="50.5" y1="699.1" x2="57.2" y2="699.1" stroke="#000" stroke-width="1.6" stroke-linecap="butt"/>
<text x="48.2" y="702.8" font-family='"Liberation Sans", sans-serif' font-size="11.4" font-weight="bold" text-anchor="end" fill="#000" transform="rotate(0.03 48.2 702.8)" stroke="#000" stroke-width="0.22">300</text>
<line x1="50.5" y1="737.0" x2="57.2" y2="737.0" stroke="#000" stroke-width="1.6" stroke-linecap="butt"/>
<text x="48.2" y="740.7" font-family='"Liberation Sans", sans-serif' font-size="11.4" font-weight="bold" text-anchor="end" fill="#000" transform="rotate(0.03 48.2 740.7)" stroke="#000" stroke-width="0.22">200</text>
<line x1="50.5" y1="774.9" x2="57.2" y2="774.9" stroke="#000" stroke-width="1.6" stroke-linecap="butt"/>
<text x="48.2" y="778.6" font-family='"Liberation Sans", sans-serif' font-size="11.4" font-weight="bold" text-anchor="end" fill="#000" transform="rotate(0.03 48.2 778.6)" stroke="#000" stroke-width="0.22">100</text>
<line x1="50.5" y1="812.8" x2="57.2" y2="812.8" stroke="#000" stroke-width="1.6" stroke-linecap="butt"/>
<text x="48.2" y="816.5" font-family='"Liberation Sans", sans-serif' font-size="11.4" font-weight="bold" text-anchor="end" fill="#000" transform="rotate(0.03 48.2 816.5)" stroke="#000" stroke-width="0.22">0</text>
<line x1="80.4" y1="812.8" x2="80.4" y2="819.4" stroke="#000" stroke-width="1.6" stroke-linecap="butt"/>
<text x="83.4" y="829.2" font-family='"Liberation Sans", sans-serif' font-size="11.7" font-weight="bold" text-anchor="end" fill="#000" transform="rotate(-45 83.4 829.2)" stroke="#000" stroke-width="0.22">NW_W0</text>
<line x1="115.5" y1="812.8" x2="115.5" y2="819.4" stroke="#000" stroke-width="1.6" stroke-linecap="butt"/>
<text x="118.5" y="829.2" font-family='"Liberation Sans", sans-serif' font-size="11.7" font-weight="bold" text-anchor="end" fill="#000" transform="rotate(-45 118.5 829.2)" stroke="#000" stroke-width="0.22">NW_W4</text>
<line x1="150.6" y1="812.8" x2="150.6" y2="819.4" stroke="#000" stroke-width="1.6" stroke-linecap="butt"/>
<text x="153.6" y="829.2" font-family='"Liberation Sans", sans-serif' font-size="11.7" font-weight="bold" text-anchor="end" fill="#000" transform="rotate(-45 153.6 829.2)" stroke="#000" stroke-width="0.22">OW_W0</text>
<line x1="185.5" y1="812.8" x2="185.5" y2="819.4" stroke="#000" stroke-width="1.6" stroke-linecap="butt"/>
<text x="188.5" y="829.2" font-family='"Liberation Sans", sans-serif' font-size="11.7" font-weight="bold" text-anchor="end" fill="#000" transform="rotate(-45 188.5 829.2)" stroke="#000" stroke-width="0.22">OW_W4</text>
<text x="19.5" y="736.6" font-family='"Liberation Sans", sans-serif' font-size="14.25" font-weight="bold" text-anchor="middle" fill="#000" transform="rotate(-90 19.5 736.6)" stroke="#000" stroke-width="0.22">Insulin 1h (µU/mL)</text>
<line x1="73.1" y1="675.2" x2="151" y2="675.2" stroke="#000" stroke-width="1.65" stroke-linecap="butt"/>
<text x="112.05" y="673.1" font-family='"Liberation Sans", sans-serif' font-size="11" font-weight="bold" text-anchor="middle" fill="#000" transform="rotate(0.03 112.05 673.1)" stroke="#000" stroke-width="0.45">**</text>
<line x1="320.3" y1="730.75" x2="320.3" y2="804.25" stroke="#8c9b3c" stroke-width="1.5" stroke-linecap="butt"/>
<line x1="313.90000000000003" y1="730.75" x2="326.7" y2="730.75" stroke="#8c9b3c" stroke-width="1.5" stroke-linecap="butt"/>
<line x1="313.90000000000003" y1="804.25" x2="326.7" y2="804.25" stroke="#8c9b3c" stroke-width="1.5" stroke-linecap="butt"/>
<rect x="309.45" y="778.25" width="21.7" height="14.75" fill="#dde5c3" stroke="#8c9b3c" stroke-width="1.5"/>
<line x1="309.45" y1="789" x2="331.15" y2="789" stroke="#8c9b3c" stroke-width="1.5" stroke-linecap="butt"/>
<line x1="355.5" y1="751.75" x2="355.5" y2="806.75" stroke="#8a993a" stroke-width="1.5" stroke-linecap="butt"/>
<line x1="349.1" y1="751.75" x2="361.9" y2="751.75" stroke="#8a993a" stroke-width="1.5" stroke-linecap="butt"/>
<line x1="349.1" y1="806.75" x2="361.9" y2="806.75" stroke="#8a993a" stroke-width="1.5" stroke-linecap="butt"/>
<rect x="344.65" y="776" width="21.7" height="16" fill="#a8b66b" stroke="#8a993a" stroke-width="1.5"/>
<line x1="344.65" y1="787" x2="366.35" y2="787" stroke="#8a993a" stroke-width="1.5" stroke-linecap="butt"/>
<line x1="390.6" y1="693.25" x2="390.6" y2="780.5" stroke="#88c7dd" stroke-width="1.5" stroke-linecap="butt"/>
<line x1="384.20000000000005" y1="693.25" x2="397.0" y2="693.25" stroke="#88c7dd" stroke-width="1.5" stroke-linecap="butt"/>
<line x1="384.20000000000005" y1="780.5" x2="397.0" y2="780.5" stroke="#88c7dd" stroke-width="1.5" stroke-linecap="butt"/>
<rect x="379.75" y="710" width="21.7" height="60" fill="#d8eaf1" stroke="#88c7dd" stroke-width="1.5"/>
<line x1="379.75" y1="732.75" x2="401.45" y2="732.75" stroke="#88c7dd" stroke-width="1.5" stroke-linecap="butt"/>
<line x1="425.5" y1="698.5" x2="425.5" y2="793" stroke="#3c9fbf" stroke-width="1.5" stroke-linecap="butt"/>
<line x1="419.1" y1="698.5" x2="431.9" y2="698.5" stroke="#3c9fbf" stroke-width="1.5" stroke-linecap="butt"/>
<line x1="419.1" y1="793" x2="431.9" y2="793" stroke="#3c9fbf" stroke-width="1.5" stroke-linecap="butt"/>
<rect x="414.65" y="725" width="21.7" height="50.75" fill="#7fbcd3" stroke="#3c9fbf" stroke-width="1.5"/>
<line x1="414.65" y1="742.5" x2="436.35" y2="742.5" stroke="#3c9fbf" stroke-width="1.5" stroke-linecap="butt"/>
<line x1="296.5" y1="660.4000000000001" x2="296.5" y2="813.5999999999999" stroke="#000" stroke-width="1.6" stroke-linecap="butt"/>
<line x1="289.8" y1="812.8" x2="448.8" y2="812.8" stroke="#000" stroke-width="1.6" stroke-linecap="butt"/>
<line x1="289.8" y1="661.2" x2="296.5" y2="661.2" stroke="#000" stroke-width="1.6" stroke-linecap="butt"/>
<text x="287.5" y="664.9" font-family='"Liberation Sans", sans-serif' font-size="11.4" font-weight="bold" text-anchor="end" fill="#000" transform="rotate(0.03 287.5 664.9)" stroke="#000" stroke-width="0.22">150</text>
<line x1="289.8" y1="711.73" x2="296.5" y2="711.73" stroke="#000" stroke-width="1.6" stroke-linecap="butt"/>
<text x="287.5" y="715.43" font-family='"Liberation Sans", sans-serif' font-size="11.4" font-weight="bold" text-anchor="end" fill="#000" transform="rotate(0.03 287.5 715.43)" stroke="#000" stroke-width="0.22">100</text>
<line x1="289.8" y1="762.27" x2="296.5" y2="762.27" stroke="#000" stroke-width="1.6" stroke-linecap="butt"/>
<text x="287.5" y="765.97" font-family='"Liberation Sans", sans-serif' font-size="11.4" font-weight="bold" text-anchor="end" fill="#000" transform="rotate(0.03 287.5 765.97)" stroke="#000" stroke-width="0.22">50</text>
<line x1="289.8" y1="812.8" x2="296.5" y2="812.8" stroke="#000" stroke-width="1.6" stroke-linecap="butt"/>
<text x="287.5" y="816.5" font-family='"Liberation Sans", sans-serif' font-size="11.4" font-weight="bold" text-anchor="end" fill="#000" transform="rotate(0.03 287.5 816.5)" stroke="#000" stroke-width="0.22">0</text>
<line x1="320.3" y1="812.8" x2="320.3" y2="819.4" stroke="#000" stroke-width="1.6" stroke-linecap="butt"/>
<text x="323.3" y="829.2" font-family='"Liberation Sans", sans-serif' font-size="11.7" font-weight="bold" text-anchor="end" fill="#000" transform="rotate(-45 323.3 829.2)" stroke="#000" stroke-width="0.22">NW_W0</text>
<line x1="355.5" y1="812.8" x2="355.5" y2="819.4" stroke="#000" stroke-width="1.6" stroke-linecap="butt"/>
<text x="358.5" y="829.2" font-family='"Liberation Sans", sans-serif' font-size="11.7" font-weight="bold" text-anchor="end" fill="#000" transform="rotate(-45 358.5 829.2)" stroke="#000" stroke-width="0.22">NW_W4</text>
<line x1="390.6" y1="812.8" x2="390.6" y2="819.4" stroke="#000" stroke-width="1.6" stroke-linecap="butt"/>
<text x="393.6" y="829.2" font-family='"Liberation Sans", sans-serif' font-size="11.7" font-weight="bold" text-anchor="end" fill="#000" transform="rotate(-45 393.6 829.2)" stroke="#000" stroke-width="0.22">OW_W0</text>
<line x1="425.5" y1="812.8" x2="425.5" y2="819.4" stroke="#000" stroke-width="1.6" stroke-linecap="butt"/>
<text x="428.5" y="829.2" font-family='"Liberation Sans", sans-serif' font-size="11.7" font-weight="bold" text-anchor="end" fill="#000" transform="rotate(-45 428.5 829.2)" stroke="#000" stroke-width="0.22">OW_W4</text>
<text x="259.8" y="736.6" font-family='"Liberation Sans", sans-serif' font-size="14.25" font-weight="bold" text-anchor="middle" fill="#000" transform="rotate(-90 259.8 736.6)" stroke="#000" stroke-width="0.22">Insulin 2h (µU/mL)</text>
<line x1="315.5" y1="678.2" x2="393.1" y2="678.2" stroke="#000" stroke-width="1.65" stroke-linecap="butt"/>
<text x="354.3" y="676.4" font-family='"Liberation Sans", sans-serif' font-size="11" font-weight="bold" text-anchor="middle" fill="#000" transform="rotate(0.03 354.3 676.4)" stroke="#000" stroke-width="0.45">****</text>
<line x1="553.7" y1="731" x2="553.7" y2="806.75" stroke="#8c9b3c" stroke-width="1.5" stroke-linecap="butt"/>
<line x1="547.3000000000001" y1="731" x2="560.1" y2="731" stroke="#8c9b3c" stroke-width="1.5" stroke-linecap="butt"/>
<line x1="547.3000000000001" y1="806.75" x2="560.1" y2="806.75" stroke="#8c9b3c" stroke-width="1.5" stroke-linecap="butt"/>
<rect x="542.85" y="784.75" width="21.7" height="13.5" fill="#dde5c3" stroke="#8c9b3c" stroke-width="1.5"/>
<line x1="542.85" y1="793.5" x2="564.55" y2="793.5" stroke="#8c9b3c" stroke-width="1.5" stroke-linecap="butt"/>
<line x1="588.7" y1="769.5" x2="588.7" y2="805" stroke="#8a993a" stroke-width="1.5" stroke-linecap="butt"/>
<line x1="582.3000000000001" y1="769.5" x2="595.1" y2="769.5" stroke="#8a993a" stroke-width="1.5" stroke-linecap="butt"/>
<line x1="582.3000000000001" y1="805" x2="595.1" y2="805" stroke="#8a993a" stroke-width="1.5" stroke-linecap="butt"/>
<rect x="577.85" y="786.25" width="21.7" height="9.25" fill="#a8b66b" stroke="#8a993a" stroke-width="1.5"/>
<line x1="577.85" y1="790.75" x2="599.55" y2="790.75" stroke="#8a993a" stroke-width="1.5" stroke-linecap="butt"/>
<line x1="623.9" y1="686.7" x2="623.9" y2="798.25" stroke="#88c7dd" stroke-width="1.5" stroke-linecap="butt"/>
<line x1="617.5" y1="686.7" x2="630.3" y2="686.7" stroke="#88c7dd" stroke-width="1.5" stroke-linecap="butt"/>
<line x1="617.5" y1="798.25" x2="630.3" y2="798.25" stroke="#88c7dd" stroke-width="1.5" stroke-linecap="butt"/>
<rect x="613.05" y="743.75" width="21.7" height="29.5" fill="#d8eaf1" stroke="#88c7dd" stroke-width="1.5"/>
<line x1="613.05" y1="762.75" x2="634.75" y2="762.75" stroke="#88c7dd" stroke-width="1.5" stroke-linecap="butt"/>
<line x1="659.1" y1="681" x2="659.1" y2="799.75" stroke="#3c9fbf" stroke-width="1.5" stroke-linecap="butt"/>
<line x1="652.7" y1="681" x2="665.5" y2="681" stroke="#3c9fbf" stroke-width="1.5" stroke-linecap="butt"/>
<line x1="652.7" y1="799.75" x2="665.5" y2="799.75" stroke="#3c9fbf" stroke-width="1.5" stroke-linecap="butt"/>
<rect x="648.25" y="727" width="21.7" height="66.75" fill="#7fbcd3" stroke="#3c9fbf" stroke-width="1.5"/>
<line x1="648.25" y1="764" x2="669.95" y2="764" stroke="#3c9fbf" stroke-width="1.5" stroke-linecap="butt"/>
<line x1="530.5" y1="660.4000000000001" x2="530.5" y2="813.8" stroke="#000" stroke-width="1.6" stroke-linecap="butt"/>
<line x1="523.8" y1="813" x2="682" y2="813" stroke="#000" stroke-width="1.6" stroke-linecap="butt"/>
<line x1="523.8" y1="661.2" x2="530.5" y2="661.2" stroke="#000" stroke-width="1.6" stroke-linecap="butt"/>
<text x="521.5" y="664.9" font-family='"Liberation Sans", sans-serif' font-size="11.4" font-weight="bold" text-anchor="end" fill="#000" transform="rotate(0.03 521.5 664.9)" stroke="#000" stroke-width="0.22">400</text>
<line x1="523.8" y1="699.15" x2="530.5" y2="699.15" stroke="#000" stroke-width="1.6" stroke-linecap="butt"/>
<text x="521.5" y="702.85" font-family='"Liberation Sans", sans-serif' font-size="11.4" font-weight="bold" text-anchor="end" fill="#000" transform="rotate(0.03 521.5 702.85)" stroke="#000" stroke-width="0.22">300</text>
<line x1="523.8" y1="737.1" x2="530.5" y2="737.1" stroke="#000" stroke-width="1.6" stroke-linecap="butt"/>
<text x="521.5" y="740.8" font-family='"Liberation Sans", sans-serif' font-size="11.4" font-weight="bold" text-anchor="end" fill="#000" transform="rotate(0.03 521.5 740.8)" stroke="#000" stroke-width="0.22">200</text>
<line x1="523.8" y1="775.05" x2="530.5" y2="775.05" stroke="#000" stroke-width="1.6" stroke-linecap="butt"/>
<text x="521.5" y="778.75" font-family='"Liberation Sans", sans-serif' font-size="11.4" font-weight="bold" text-anchor="end" fill="#000" transform="rotate(0.03 521.5 778.75)" stroke="#000" stroke-width="0.22">100</text>
<line x1="523.8" y1="813.0" x2="530.5" y2="813.0" stroke="#000" stroke-width="1.6" stroke-linecap="butt"/>
<text x="521.5" y="816.7" font-family='"Liberation Sans", sans-serif' font-size="11.4" font-weight="bold" text-anchor="end" fill="#000" transform="rotate(0.03 521.5 816.7)" stroke="#000" stroke-width="0.22">0</text>
<line x1="553.7" y1="813" x2="553.7" y2="819.6" stroke="#000" stroke-width="1.6" stroke-linecap="butt"/>
<text x="556.7" y="829.4" font-family='"Liberation Sans", sans-serif' font-size="11.7" font-weight="bold" text-anchor="end" fill="#000" transform="rotate(-45 556.7 829.4)" stroke="#000" stroke-width="0.22">NW_W0</text>
<line x1="588.7" y1="813" x2="588.7" y2="819.6" stroke="#000" stroke-width="1.6" stroke-linecap="butt"/>
<text x="591.7" y="829.4" font-family='"Liberation Sans", sans-serif' font-size="11.7" font-weight="bold" text-anchor="end" fill="#000" transform="rotate(-45 591.7 829.4)" stroke="#000" stroke-width="0.22">NW_W4</text>
<line x1="623.9" y1="813" x2="623.9" y2="819.6" stroke="#000" stroke-width="1.6" stroke-linecap="butt"/>
<text x="626.9" y="829.4" font-family='"Liberation Sans", sans-serif' font-size="11.7" font-weight="bold" text-anchor="end" fill="#000" transform="rotate(-45 626.9 829.4)" stroke="#000" stroke-width="0.22">OW_W0</text>
<line x1="659.1" y1="813" x2="659.1" y2="819.6" stroke="#000" stroke-width="1.6" stroke-linecap="butt"/>
<text x="662.1" y="829.4" font-family='"Liberation Sans", sans-serif' font-size="11.7" font-weight="bold" text-anchor="end" fill="#000" transform="rotate(-45 662.1 829.4)" stroke="#000" stroke-width="0.22">OW_W4</text>
<text x="492.5" y="737" font-family='"Liberation Sans", sans-serif' font-weight="bold" text-anchor="middle" transform="rotate(-90 492.5 737)"><tspan font-size="14.6">Insulin AUC</tspan><tspan font-size="11"> 0-2h</tspan></text>
<line x1="548.7" y1="678.2" x2="626.7" y2="678.2" stroke="#000" stroke-width="1.65" stroke-linecap="butt"/>
<text x="587.7" y="676.4" font-family='"Liberation Sans", sans-serif' font-size="11" font-weight="bold" text-anchor="middle" fill="#000" transform="rotate(0.03 587.7 676.4)" stroke="#000" stroke-width="0.45">***</text>
<text x="2.8" y="874.7" font-family='"Liberation Serif", serif' font-size="27.5" font-weight="bold" text-anchor="start" fill="#000" transform="rotate(0.03 2.8 874.7)" stroke="#000" stroke-width="0.22">J</text>
<text x="239.5" y="874.1" font-family='"Liberation Serif", serif' font-size="24.3" font-weight="bold" text-anchor="start" fill="#000" transform="rotate(0.03 239.5 874.1)" stroke="#000" stroke-width="0.22">K</text>
<text x="473.5" y="874.1" font-family='"Liberation Serif", serif' font-size="24.3" font-weight="bold" text-anchor="start" fill="#000" transform="rotate(0.03 473.5 874.1)" stroke="#000" stroke-width="0.22">L</text>
<line x1="80.4" y1="896" x2="80.4" y2="1011.7" stroke="#8c9b3c" stroke-width="1.5" stroke-linecap="butt"/>
<line x1="74.0" y1="896" x2="86.80000000000001" y2="896" stroke="#8c9b3c" stroke-width="1.5" stroke-linecap="butt"/>
<line x1="74.0" y1="1011.7" x2="86.80000000000001" y2="1011.7" stroke="#8c9b3c" stroke-width="1.5" stroke-linecap="butt"/>
<rect x="69.55" y="953.5" width="21.7" height="37.5" fill="#dde5c3" stroke="#8c9b3c" stroke-width="1.5"/>
<line x1="69.55" y1="979.1" x2="91.25" y2="979.1" stroke="#8c9b3c" stroke-width="1.5" stroke-linecap="butt"/>
<line x1="115.5" y1="931.5" x2="115.5" y2="1011.7" stroke="#8a993a" stroke-width="1.5" stroke-linecap="butt"/>
<line x1="109.1" y1="931.5" x2="121.9" y2="931.5" stroke="#8a993a" stroke-width="1.5" stroke-linecap="butt"/>
<line x1="109.1" y1="1011.7" x2="121.9" y2="1011.7" stroke="#8a993a" stroke-width="1.5" stroke-linecap="butt"/>
<rect x="104.65" y="972" width="21.7" height="19" fill="#a8b66b" stroke="#8a993a" stroke-width="1.5"/>
<line x1="104.65" y1="981.6" x2="126.35" y2="981.6" stroke="#8a993a" stroke-width="1.5" stroke-linecap="butt"/>
<line x1="150.6" y1="911" x2="150.6" y2="997.1" stroke="#88c7dd" stroke-width="1.5" stroke-linecap="butt"/>
<line x1="144.2" y1="911" x2="157.0" y2="911" stroke="#88c7dd" stroke-width="1.5" stroke-linecap="butt"/>
<line x1="144.2" y1="997.1" x2="157.0" y2="997.1" stroke="#88c7dd" stroke-width="1.5" stroke-linecap="butt"/>
<rect x="139.75" y="944.6" width="21.7" height="41.4" fill="#d8eaf1" stroke="#88c7dd" stroke-width="1.5"/>
<line x1="139.75" y1="961.5" x2="161.45" y2="961.5" stroke="#88c7dd" stroke-width="1.5" stroke-linecap="butt"/>
<line x1="185.5" y1="906" x2="185.5" y2="1007.1" stroke="#3c9fbf" stroke-width="1.5" stroke-linecap="butt"/>
<line x1="179.1" y1="906" x2="191.9" y2="906" stroke="#3c9fbf" stroke-width="1.5" stroke-linecap="butt"/>
<line x1="179.1" y1="1007.1" x2="191.9" y2="1007.1" stroke="#3c9fbf" stroke-width="1.5" stroke-linecap="butt"/>
<rect x="174.65" y="936.6" width="21.7" height="41.9" fill="#7fbcd3" stroke="#3c9fbf" stroke-width="1.5"/>
<line x1="174.65" y1="971.6" x2="196.35" y2="971.6" stroke="#3c9fbf" stroke-width="1.5" stroke-linecap="butt"/>
<line x1="57.1" y1="884.8000000000001" x2="57.1" y2="1037.8999999999999" stroke="#000" stroke-width="1.6" stroke-linecap="butt"/>
<line x1="50.4" y1="1037.1" x2="209.1" y2="1037.1" stroke="#000" stroke-width="1.6" stroke-linecap="butt"/>
<line x1="50.4" y1="885.6" x2="57.1" y2="885.6" stroke="#000" stroke-width="1.6" stroke-linecap="butt"/>
<text x="48.1" y="889.3" font-family='"Liberation Sans", sans-serif' font-size="11.4" font-weight="bold" text-anchor="end" fill="#000" transform="rotate(0.03 48.1 889.3)" stroke="#000" stroke-width="0.22">7</text>
<line x1="50.4" y1="936.1" x2="57.1" y2="936.1" stroke="#000" stroke-width="1.6" stroke-linecap="butt"/>
<text x="48.1" y="939.8" font-family='"Liberation Sans", sans-serif' font-size="11.4" font-weight="bold" text-anchor="end" fill="#000" transform="rotate(0.03 48.1 939.8)" stroke="#000" stroke-width="0.22">6</text>
<line x1="50.4" y1="986.6" x2="57.1" y2="986.6" stroke="#000" stroke-width="1.6" stroke-linecap="butt"/>
<text x="48.1" y="990.3" font-family='"Liberation Sans", sans-serif' font-size="11.4" font-weight="bold" text-anchor="end" fill="#000" transform="rotate(0.03 48.1 990.3)" stroke="#000" stroke-width="0.22">5</text>
<line x1="50.4" y1="1037.1" x2="57.1" y2="1037.1" stroke="#000" stroke-width="1.6" stroke-linecap="butt"/>
<text x="48.1" y="1040.8" font-family='"Liberation Sans", sans-serif' font-size="11.4" font-weight="bold" text-anchor="end" fill="#000" transform="rotate(0.03 48.1 1040.8)" stroke="#000" stroke-width="0.22">4</text>
<line x1="80.4" y1="1037.1" x2="80.4" y2="1043.6999999999998" stroke="#000" stroke-width="1.6" stroke-linecap="butt"/>
<text x="83.4" y="1053.5" font-family='"Liberation Sans", sans-serif' font-size="11.7" font-weight="bold" text-anchor="end" fill="#000" transform="rotate(-45 83.4 1053.5)" stroke="#000" stroke-width="0.22">NW_W0</text>
<line x1="115.5" y1="1037.1" x2="115.5" y2="1043.6999999999998" stroke="#000" stroke-width="1.6" stroke-linecap="butt"/>
<text x="118.5" y="1053.5" font-family='"Liberation Sans", sans-serif' font-size="11.7" font-weight="bold" text-anchor="end" fill="#000" transform="rotate(-45 118.5 1053.5)" stroke="#000" stroke-width="0.22">NW_W4</text>
<line x1="150.6" y1="1037.1" x2="150.6" y2="1043.6999999999998" stroke="#000" stroke-width="1.6" stroke-linecap="butt"/>
<text x="153.6" y="1053.5" font-family='"Liberation Sans", sans-serif' font-size="11.7" font-weight="bold" text-anchor="end" fill="#000" transform="rotate(-45 153.6 1053.5)" stroke="#000" stroke-width="0.22">OW_W0</text>
<line x1="185.5" y1="1037.1" x2="185.5" y2="1043.6999999999998" stroke="#000" stroke-width="1.6" stroke-linecap="butt"/>
<text x="188.5" y="1053.5" font-family='"Liberation Sans", sans-serif' font-size="11.7" font-weight="bold" text-anchor="end" fill="#000" transform="rotate(-45 188.5 1053.5)" stroke="#000" stroke-width="0.22">OW_W4</text>
<text x="33" y="962" font-family='"Liberation Sans", sans-serif' font-size="14.6" font-weight="bold" text-anchor="middle" fill="#000" transform="rotate(-90 33 962)" stroke="#000" stroke-width="0.22">FBG (mmol/L)</text>
<line x1="323.4" y1="906" x2="323.4" y2="1029" stroke="#8c9b3c" stroke-width="1.5" stroke-linecap="butt"/>
<line x1="317.0" y1="906" x2="329.79999999999995" y2="906" stroke="#8c9b3c" stroke-width="1.5" stroke-linecap="butt"/>
<line x1="317.0" y1="1029" x2="329.79999999999995" y2="1029" stroke="#8c9b3c" stroke-width="1.5" stroke-linecap="butt"/>
<rect x="312.55" y="1005.1" width="21.7" height="17.4" fill="#dde5c3" stroke="#8c9b3c" stroke-width="1.5"/>
<line x1="312.55" y1="1014.6" x2="334.25" y2="1014.6" stroke="#8c9b3c" stroke-width="1.5" stroke-linecap="butt"/>
<line x1="359.2" y1="894" x2="359.2" y2="1025.6" stroke="#8a993a" stroke-width="1.5" stroke-linecap="butt"/>
<line x1="352.8" y1="894" x2="365.59999999999997" y2="894" stroke="#8a993a" stroke-width="1.5" stroke-linecap="butt"/>
<line x1="352.8" y1="1025.6" x2="365.59999999999997" y2="1025.6" stroke="#8a993a" stroke-width="1.5" stroke-linecap="butt"/>
<rect x="348.35" y="1007.4" width="21.7" height="14.0" fill="#a8b66b" stroke="#8a993a" stroke-width="1.5"/>
<line x1="348.35" y1="1014.6" x2="370.05" y2="1014.6" stroke="#8a993a" stroke-width="1.5" stroke-linecap="butt"/>
<line x1="394.8" y1="948.3" x2="394.8" y2="1012.6" stroke="#88c7dd" stroke-width="1.5" stroke-linecap="butt"/>
<line x1="388.40000000000003" y1="948.3" x2="401.2" y2="948.3" stroke="#88c7dd" stroke-width="1.5" stroke-linecap="butt"/>
<line x1="388.40000000000003" y1="1012.6" x2="401.2" y2="1012.6" stroke="#88c7dd" stroke-width="1.5" stroke-linecap="butt"/>
<rect x="383.95" y="985.6" width="21.7" height="22.8" fill="#d8eaf1" stroke="#88c7dd" stroke-width="1.5"/>
<line x1="383.95" y1="1001.9" x2="405.65" y2="1001.9" stroke="#88c7dd" stroke-width="1.5" stroke-linecap="butt"/>
<line x1="430.5" y1="911.1" x2="430.5" y2="1022.1" stroke="#3c9fbf" stroke-width="1.5" stroke-linecap="butt"/>
<line x1="424.1" y1="911.1" x2="436.9" y2="911.1" stroke="#3c9fbf" stroke-width="1.5" stroke-linecap="butt"/>
<line x1="424.1" y1="1022.1" x2="436.9" y2="1022.1" stroke="#3c9fbf" stroke-width="1.5" stroke-linecap="butt"/>
<rect x="419.65" y="942.6" width="21.7" height="54.0" fill="#7fbcd3" stroke="#3c9fbf" stroke-width="1.5"/>
<line x1="419.65" y1="981.6" x2="441.35" y2="981.6" stroke="#3c9fbf" stroke-width="1.5" stroke-linecap="butt"/>
<line x1="299.5" y1="885.5" x2="299.5" y2="1041.3" stroke="#000" stroke-width="1.6" stroke-linecap="butt"/>
<line x1="292.8" y1="1040.5" x2="453.5" y2="1040.5" stroke="#000" stroke-width="1.6" stroke-linecap="butt"/>
<line x1="292.8" y1="886.3" x2="299.5" y2="886.3" stroke="#000" stroke-width="1.6" stroke-linecap="butt"/>
<text x="290.5" y="890.0" font-family='"Liberation Sans", sans-serif' font-size="11.4" font-weight="bold" text-anchor="end" fill="#000" transform="rotate(0.03 290.5 890.0)" stroke="#000" stroke-width="0.22">30</text>
<line x1="292.8" y1="937.7" x2="299.5" y2="937.7" stroke="#000" stroke-width="1.6" stroke-linecap="butt"/>
<text x="290.5" y="941.4" font-family='"Liberation Sans", sans-serif' font-size="11.4" font-weight="bold" text-anchor="end" fill="#000" transform="rotate(0.03 290.5 941.4)" stroke="#000" stroke-width="0.22">20</text>
<line x1="292.8" y1="989.1" x2="299.5" y2="989.1" stroke="#000" stroke-width="1.6" stroke-linecap="butt"/>
<text x="290.5" y="992.8" font-family='"Liberation Sans", sans-serif' font-size="11.4" font-weight="bold" text-anchor="end" fill="#000" transform="rotate(0.03 290.5 992.8)" stroke="#000" stroke-width="0.22">10</text>
<line x1="292.8" y1="1040.5" x2="299.5" y2="1040.5" stroke="#000" stroke-width="1.6" stroke-linecap="butt"/>
<text x="290.5" y="1044.2" font-family='"Liberation Sans", sans-serif' font-size="11.4" font-weight="bold" text-anchor="end" fill="#000" transform="rotate(0.03 290.5 1044.2)" stroke="#000" stroke-width="0.22">0</text>
<line x1="323.4" y1="1040.5" x2="323.4" y2="1047.1" stroke="#000" stroke-width="1.6" stroke-linecap="butt"/>
<text x="326.4" y="1056.9" font-family='"Liberation Sans", sans-serif' font-size="11.7" font-weight="bold" text-anchor="end" fill="#000" transform="rotate(-45 326.4 1056.9)" stroke="#000" stroke-width="0.22">NW_W0</text>
<line x1="359.2" y1="1040.5" x2="359.2" y2="1047.1" stroke="#000" stroke-width="1.6" stroke-linecap="butt"/>
<text x="362.2" y="1056.9" font-family='"Liberation Sans", sans-serif' font-size="11.7" font-weight="bold" text-anchor="end" fill="#000" transform="rotate(-45 362.2 1056.9)" stroke="#000" stroke-width="0.22">NW_W4</text>
<line x1="394.8" y1="1040.5" x2="394.8" y2="1047.1" stroke="#000" stroke-width="1.6" stroke-linecap="butt"/>
<text x="397.8" y="1056.9" font-family='"Liberation Sans", sans-serif' font-size="11.7" font-weight="bold" text-anchor="end" fill="#000" transform="rotate(-45 397.8 1056.9)" stroke="#000" stroke-width="0.22">OW_W0</text>
<line x1="430.5" y1="1040.5" x2="430.5" y2="1047.1" stroke="#000" stroke-width="1.6" stroke-linecap="butt"/>
<text x="433.5" y="1056.9" font-family='"Liberation Sans", sans-serif' font-size="11.7" font-weight="bold" text-anchor="end" fill="#000" transform="rotate(-45 433.5 1056.9)" stroke="#000" stroke-width="0.22">OW_W4</text>
<text x="266.8" y="963.6" font-family='"Liberation Sans", sans-serif' font-size="14.6" font-weight="bold" text-anchor="middle" fill="#000" transform="rotate(-90 266.8 963.6)" stroke="#000" stroke-width="0.22">Fasting Insulin (µU/mL)</text>
<line x1="315.8" y1="887.7" x2="392" y2="887.7" stroke="#000" stroke-width="1.65" stroke-linecap="butt"/>
<text x="353.9" y="879.2" font-family='"Liberation Sans", sans-serif' font-size="8" font-weight="bold" text-anchor="middle" fill="#000" transform="rotate(0.03 353.9 879.2)" stroke="#000" stroke-width="0.22">P = 0.06</text>
<line x1="396.3" y1="887.7" x2="436.9" y2="887.7" stroke="#000" stroke-width="1.65" stroke-linecap="butt"/>
<text x="416.6" y="885.1" font-family='"Liberation Sans", sans-serif' font-size="11" font-weight="bold" text-anchor="middle" fill="#000" transform="rotate(0.03 416.6 885.1)" stroke="#000" stroke-width="0.45">*</text>
<line x1="554.7" y1="1003.8" x2="554.7" y2="1027.2" stroke="#8c9b3c" stroke-width="1.5" stroke-linecap="butt"/>
<line x1="548.3000000000001" y1="1003.8" x2="561.1" y2="1003.8" stroke="#8c9b3c" stroke-width="1.5" stroke-linecap="butt"/>
<line x1="548.3000000000001" y1="1027.2" x2="561.1" y2="1027.2" stroke="#8c9b3c" stroke-width="1.5" stroke-linecap="butt"/>
<rect x="543.7" y="1019.7" width="22" height="2.0" fill="#dde5c3" stroke="#8c9b3c" stroke-width="1.5"/>
<line x1="543.7" y1="1020.7" x2="565.7" y2="1020.7" stroke="#8c9b3c" stroke-width="1.5" stroke-linecap="butt"/>
<line x1="589.6" y1="1018" x2="589.6" y2="1028.5" stroke="#8a993a" stroke-width="1.5" stroke-linecap="butt"/>
<line x1="583.2" y1="1018" x2="596.0" y2="1018" stroke="#8a993a" stroke-width="1.5" stroke-linecap="butt"/>
<line x1="583.2" y1="1028.5" x2="596.0" y2="1028.5" stroke="#8a993a" stroke-width="1.5" stroke-linecap="butt"/>
<rect x="578.6" y="1019.6" width="22" height="5.2" fill="#dfe6c6" stroke="#8a993a" stroke-width="1.5"/>
<line x1="578.6" y1="1022.2" x2="600.6" y2="1022.2" stroke="#8a993a" stroke-width="1.5" stroke-linecap="butt"/>
<line x1="624.6" y1="920.8" x2="624.6" y2="1025.7" stroke="#88c7dd" stroke-width="1.5" stroke-linecap="butt"/>
<line x1="618.2" y1="920.8" x2="631.0" y2="920.8" stroke="#88c7dd" stroke-width="1.5" stroke-linecap="butt"/>
<line x1="618.2" y1="1025.7" x2="631.0" y2="1025.7" stroke="#88c7dd" stroke-width="1.5" stroke-linecap="butt"/>
<rect x="613.6" y="1011.9" width="22" height="9.8" fill="#ececec" stroke="#88c7dd" stroke-width="1.5"/>
<line x1="613.6" y1="1020.6" x2="635.6" y2="1020.6" stroke="#88c7dd" stroke-width="1.5" stroke-linecap="butt"/>
<line x1="659.8" y1="933" x2="659.8" y2="1035.8" stroke="#84c5dc" stroke-width="1.5" stroke-linecap="butt"/>
<line x1="653.4" y1="933" x2="666.1999999999999" y2="933" stroke="#84c5dc" stroke-width="1.5" stroke-linecap="butt"/>
<line x1="653.4" y1="1035.8" x2="666.1999999999999" y2="1035.8" stroke="#84c5dc" stroke-width="1.5" stroke-linecap="butt"/>
<rect x="648.8" y="1020.9" width="22" height="3.4" fill="#dcecf3" stroke="#84c5dc" stroke-width="1.5"/>
<line x1="648.8" y1="1024.3" x2="670.8" y2="1024.3" stroke="#84c5dc" stroke-width="1.5" stroke-linecap="butt"/>
<line x1="531.2" y1="884.8000000000001" x2="531.2" y2="1038.3999999999999" stroke="#000" stroke-width="1.6" stroke-linecap="butt"/>
<line x1="524.5" y1="1037.6" x2="683.5" y2="1037.6" stroke="#000" stroke-width="1.6" stroke-linecap="butt"/>
<line x1="524.5" y1="885.6" x2="531.2" y2="885.6" stroke="#000" stroke-width="1.6" stroke-linecap="butt"/>
<text x="522.2" y="889.3" font-family='"Liberation Sans", sans-serif' font-size="11.4" font-weight="bold" text-anchor="end" fill="#000" transform="rotate(0.03 522.2 889.3)" stroke="#000" stroke-width="0.22">80</text>
<line x1="524.5" y1="923.6" x2="531.2" y2="923.6" stroke="#000" stroke-width="1.6" stroke-linecap="butt"/>
<text x="522.2" y="927.3" font-family='"Liberation Sans", sans-serif' font-size="11.4" font-weight="bold" text-anchor="end" fill="#000" transform="rotate(0.03 522.2 927.3)" stroke="#000" stroke-width="0.22">60</text>
<line x1="524.5" y1="961.6" x2="531.2" y2="961.6" stroke="#000" stroke-width="1.6" stroke-linecap="butt"/>
<text x="522.2" y="965.3" font-family='"Liberation Sans", sans-serif' font-size="11.4" font-weight="bold" text-anchor="end" fill="#000" transform="rotate(0.03 522.2 965.3)" stroke="#000" stroke-width="0.22">40</text>
<line x1="524.5" y1="999.6" x2="531.2" y2="999.6" stroke="#000" stroke-width="1.6" stroke-linecap="butt"/>
<text x="522.2" y="1003.3" font-family='"Liberation Sans", sans-serif' font-size="11.4" font-weight="bold" text-anchor="end" fill="#000" transform="rotate(0.03 522.2 1003.3)" stroke="#000" stroke-width="0.22">20</text>
<line x1="524.5" y1="1037.6" x2="531.2" y2="1037.6" stroke="#000" stroke-width="1.6" stroke-linecap="butt"/>
<text x="522.2" y="1041.3" font-family='"Liberation Sans", sans-serif' font-size="11.4" font-weight="bold" text-anchor="end" fill="#000" transform="rotate(0.03 522.2 1041.3)" stroke="#000" stroke-width="0.22">0</text>
<line x1="554.7" y1="1037.6" x2="554.7" y2="1044.1999999999998" stroke="#000" stroke-width="1.6" stroke-linecap="butt"/>
<text x="557.7" y="1054.0" font-family='"Liberation Sans", sans-serif' font-size="11.7" font-weight="bold" text-anchor="end" fill="#000" transform="rotate(-45 557.7 1054.0)" stroke="#000" stroke-width="0.22">NW_W0</text>
<line x1="589.6" y1="1037.6" x2="589.6" y2="1044.1999999999998" stroke="#000" stroke-width="1.6" stroke-linecap="butt"/>
<text x="592.6" y="1054.0" font-family='"Liberation Sans", sans-serif' font-size="11.7" font-weight="bold" text-anchor="end" fill="#000" transform="rotate(-45 592.6 1054.0)" stroke="#000" stroke-width="0.22">NW_W4</text>
<line x1="624.6" y1="1037.6" x2="624.6" y2="1044.1999999999998" stroke="#000" stroke-width="1.6" stroke-linecap="butt"/>
<text x="627.6" y="1054.0" font-family='"Liberation Sans", sans-serif' font-size="11.7" font-weight="bold" text-anchor="end" fill="#000" transform="rotate(-45 627.6 1054.0)" stroke="#000" stroke-width="0.22">OW_W0</text>
<line x1="659.8" y1="1037.6" x2="659.8" y2="1044.1999999999998" stroke="#000" stroke-width="1.6" stroke-linecap="butt"/>
<text x="662.8" y="1054.0" font-family='"Liberation Sans", sans-serif' font-size="11.7" font-weight="bold" text-anchor="end" fill="#000" transform="rotate(-45 662.8 1054.0)" stroke="#000" stroke-width="0.22">OW_W4</text>
<text x="501.5" y="962" font-family='"Liberation Sans", sans-serif' font-size="14.6" font-weight="bold" text-anchor="middle" fill="#000" transform="rotate(-90 501.5 962)" stroke="#000" stroke-width="0.22">HCY (µmol/L)</text>
<line x1="543.1" y1="915.8" x2="621.9" y2="915.8" stroke="#000" stroke-width="1.65" stroke-linecap="butt"/>
<text x="575.6" y="909.9" font-family='"Liberation Sans", sans-serif' font-size="8" font-weight="bold" text-anchor="middle" fill="#000" transform="rotate(0.03 575.6 909.9)" stroke="#000" stroke-width="0.22">P = 0.09</text>
<line x1="626.1" y1="915.8" x2="665.7" y2="915.8" stroke="#000" stroke-width="1.65" stroke-linecap="butt"/>
<text x="645.9" y="912.9" font-family='"Liberation Sans", sans-serif' font-size="11" font-weight="bold" text-anchor="middle" fill="#000" transform="rotate(0.03 645.9 912.9)" stroke="#000" stroke-width="0.45">*</text>
<line x1="553.6" y1="998.2" x2="593.2" y2="998.2" stroke="#000" stroke-width="1.65" stroke-linecap="butt"/>
<text x="572" y="992.4" font-family='"Liberation Sans", sans-serif' font-size="8" font-weight="bold" text-anchor="middle" fill="#000" transform="rotate(0.03 572 992.4)" stroke="#000" stroke-width="0.22">P = 0.05</text>
</svg>
</body>
</html>
